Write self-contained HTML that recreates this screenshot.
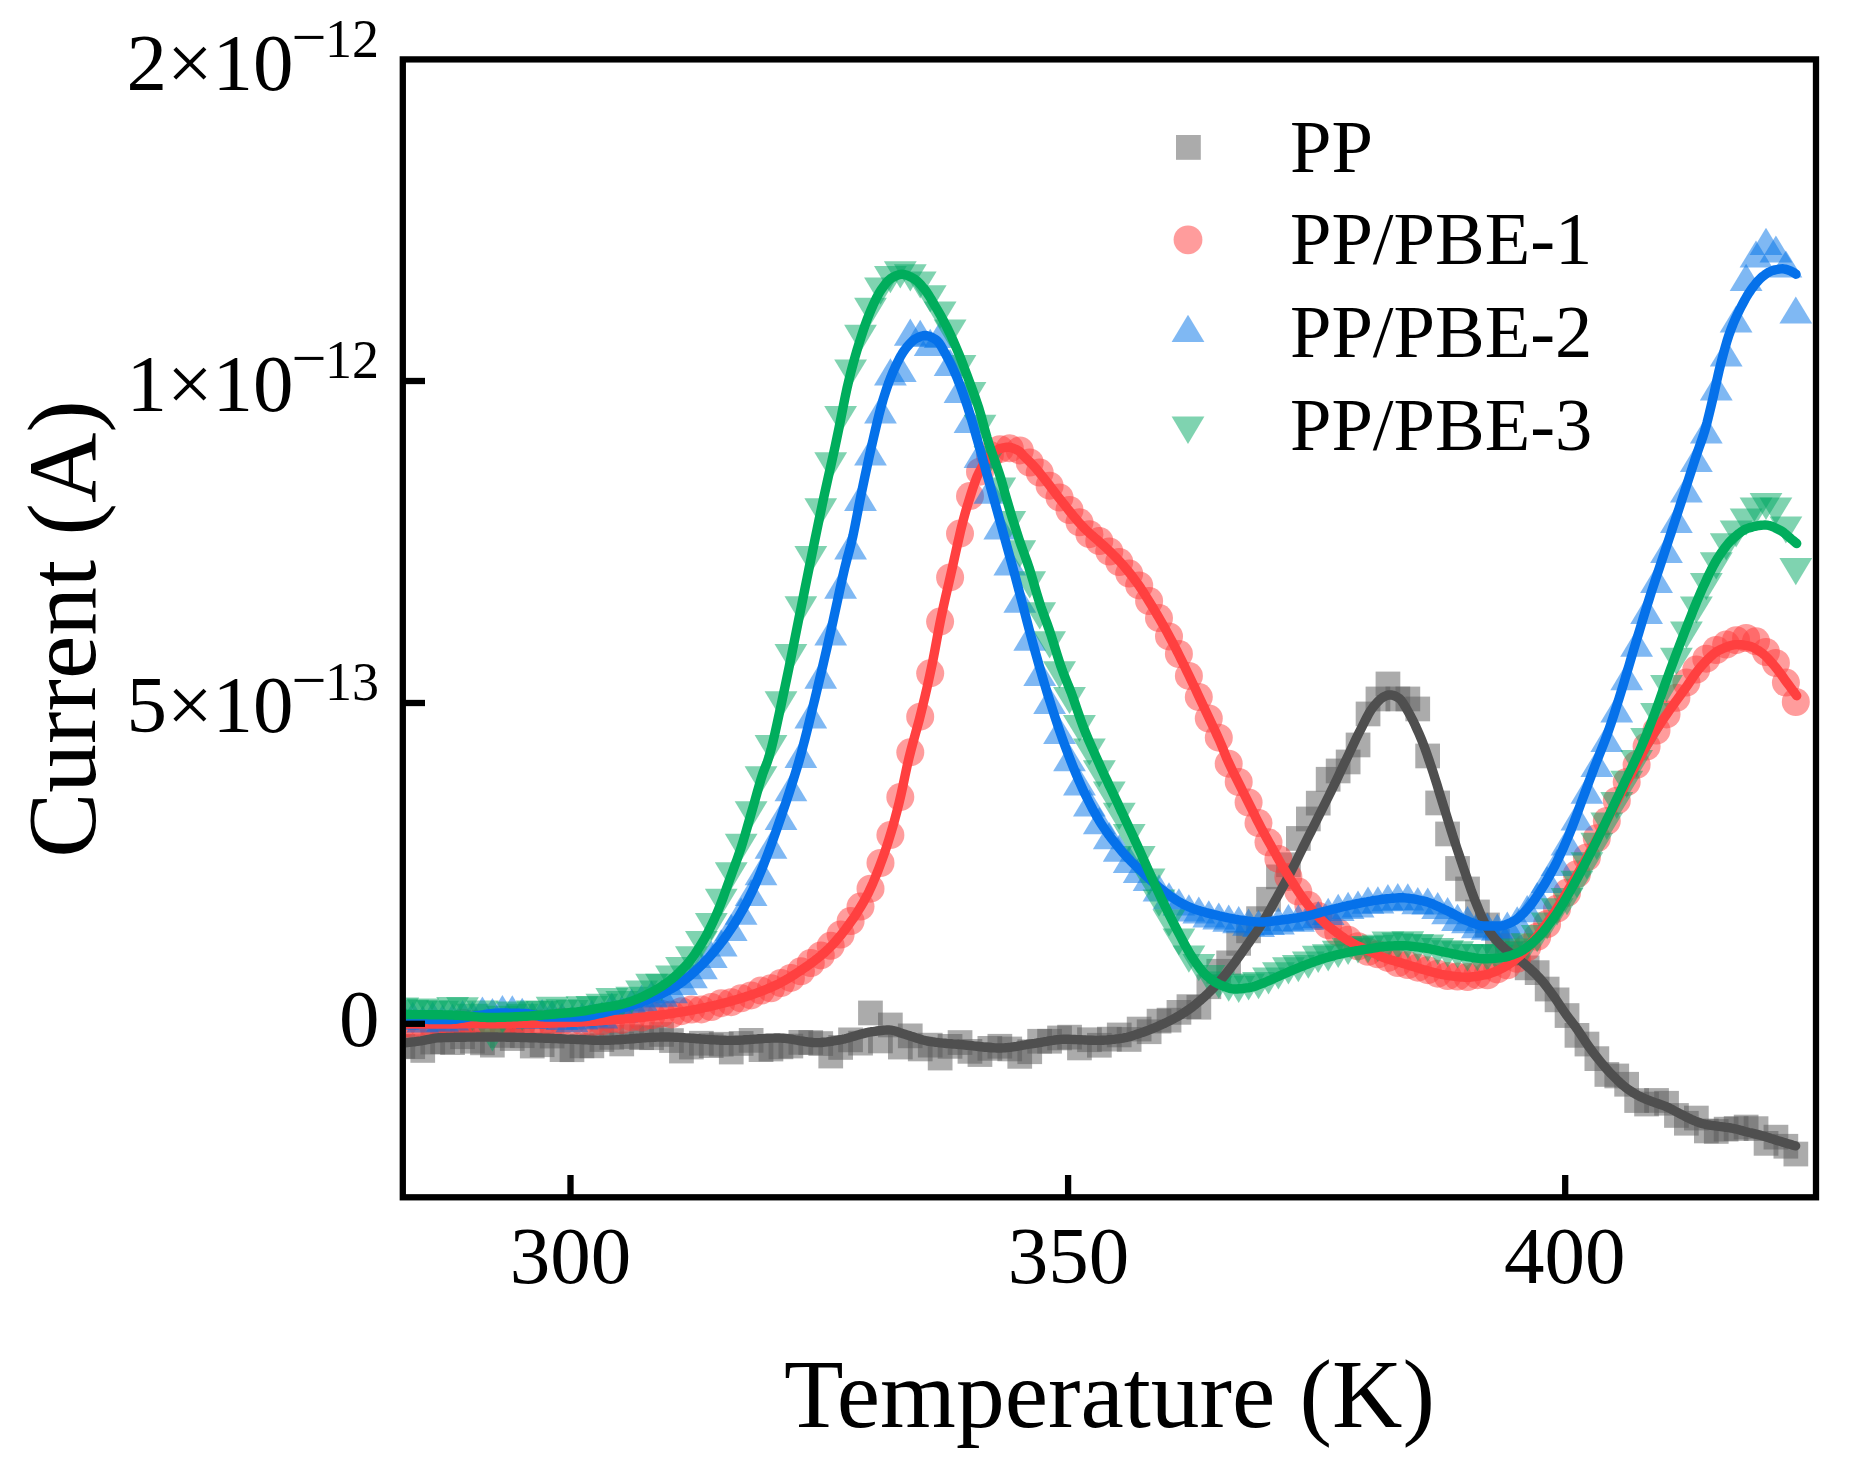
<!DOCTYPE html>
<html lang="en"><head><meta charset="utf-8"><title>TSDC current vs temperature</title>
<style>html,body{margin:0;padding:0;background:#fff}body{width:1852px;height:1472px;overflow:hidden}svg{display:block}text{font-family:"Liberation Serif","Times New Roman",serif;fill:#000}.tk{font-size:81px}.sup{font-size:54px}.mn{font-size:62px}.ax{font-size:97.5px}.lg{font-size:74.5px}</style></head><body>
<svg width="1852" height="1472" viewBox="0 0 1852 1472">
<rect width="1852" height="1472" fill="#fff"/>
<defs><clipPath id="pa"><rect x="405.9" y="62.5" width="1406.9" height="1131.6"/></clipPath></defs>
<g clip-path="url(#pa)">
<g fill="rgb(87,87,87)" fill-opacity="0.5">
<rect x="390.5" y="1034.0" width="24.7" height="24.7"/>
<rect x="400.4" y="1034.4" width="24.7" height="24.7"/>
<rect x="410.4" y="1038.1" width="24.7" height="24.7"/>
<rect x="420.4" y="1029.7" width="24.7" height="24.7"/>
<rect x="430.3" y="1029.4" width="24.7" height="24.7"/>
<rect x="440.2" y="1030.3" width="24.7" height="24.7"/>
<rect x="450.2" y="1024.4" width="24.7" height="24.7"/>
<rect x="460.1" y="1028.9" width="24.7" height="24.7"/>
<rect x="470.1" y="1030.5" width="24.7" height="24.7"/>
<rect x="480.0" y="1032.8" width="24.7" height="24.7"/>
<rect x="490.0" y="1023.1" width="24.7" height="24.7"/>
<rect x="499.9" y="1026.2" width="24.7" height="24.7"/>
<rect x="509.9" y="1023.4" width="24.7" height="24.7"/>
<rect x="519.9" y="1033.7" width="24.7" height="24.7"/>
<rect x="529.8" y="1032.4" width="24.7" height="24.7"/>
<rect x="539.8" y="1023.7" width="24.7" height="24.7"/>
<rect x="549.7" y="1037.3" width="24.7" height="24.7"/>
<rect x="559.6" y="1037.4" width="24.7" height="24.7"/>
<rect x="569.6" y="1033.5" width="24.7" height="24.7"/>
<rect x="579.5" y="1033.5" width="24.7" height="24.7"/>
<rect x="589.5" y="1027.2" width="24.7" height="24.7"/>
<rect x="599.4" y="1025.0" width="24.7" height="24.7"/>
<rect x="609.4" y="1031.6" width="24.7" height="24.7"/>
<rect x="619.4" y="1024.2" width="24.7" height="24.7"/>
<rect x="629.3" y="1025.3" width="24.7" height="24.7"/>
<rect x="639.2" y="1025.4" width="24.7" height="24.7"/>
<rect x="649.2" y="1022.1" width="24.7" height="24.7"/>
<rect x="659.1" y="1028.2" width="24.7" height="24.7"/>
<rect x="669.1" y="1038.7" width="24.7" height="24.7"/>
<rect x="679.0" y="1034.7" width="24.7" height="24.7"/>
<rect x="689.0" y="1030.9" width="24.7" height="24.7"/>
<rect x="698.9" y="1033.3" width="24.7" height="24.7"/>
<rect x="708.9" y="1031.9" width="24.7" height="24.7"/>
<rect x="718.9" y="1039.7" width="24.7" height="24.7"/>
<rect x="728.8" y="1031.1" width="24.7" height="24.7"/>
<rect x="738.8" y="1028.0" width="24.7" height="24.7"/>
<rect x="748.7" y="1037.3" width="24.7" height="24.7"/>
<rect x="758.6" y="1036.7" width="24.7" height="24.7"/>
<rect x="768.6" y="1034.5" width="24.7" height="24.7"/>
<rect x="778.5" y="1033.7" width="24.7" height="24.7"/>
<rect x="788.5" y="1030.0" width="24.7" height="24.7"/>
<rect x="798.4" y="1030.2" width="24.7" height="24.7"/>
<rect x="808.4" y="1031.2" width="24.7" height="24.7"/>
<rect x="818.4" y="1043.7" width="24.7" height="24.7"/>
<rect x="828.3" y="1035.1" width="24.7" height="24.7"/>
<rect x="838.2" y="1027.5" width="24.7" height="24.7"/>
<rect x="848.2" y="1030.8" width="24.7" height="24.7"/>
<rect x="858.1" y="1000.6" width="24.7" height="24.7"/>
<rect x="868.1" y="1028.6" width="24.7" height="24.7"/>
<rect x="878.0" y="1012.6" width="24.7" height="24.7"/>
<rect x="888.0" y="1034.7" width="24.7" height="24.7"/>
<rect x="897.9" y="1023.5" width="24.7" height="24.7"/>
<rect x="907.9" y="1036.6" width="24.7" height="24.7"/>
<rect x="917.9" y="1032.8" width="24.7" height="24.7"/>
<rect x="927.8" y="1045.7" width="24.7" height="24.7"/>
<rect x="937.7" y="1034.0" width="24.7" height="24.7"/>
<rect x="947.7" y="1030.2" width="24.7" height="24.7"/>
<rect x="957.6" y="1039.0" width="24.7" height="24.7"/>
<rect x="967.6" y="1042.2" width="24.7" height="24.7"/>
<rect x="977.5" y="1036.0" width="24.7" height="24.7"/>
<rect x="987.5" y="1033.9" width="24.7" height="24.7"/>
<rect x="997.4" y="1036.6" width="24.7" height="24.7"/>
<rect x="1007.4" y="1044.0" width="24.7" height="24.7"/>
<rect x="1017.4" y="1039.4" width="24.7" height="24.7"/>
<rect x="1027.3" y="1028.9" width="24.7" height="24.7"/>
<rect x="1037.2" y="1028.9" width="24.7" height="24.7"/>
<rect x="1047.2" y="1025.6" width="24.7" height="24.7"/>
<rect x="1057.2" y="1024.8" width="24.7" height="24.7"/>
<rect x="1067.1" y="1035.6" width="24.7" height="24.7"/>
<rect x="1077.1" y="1027.4" width="24.7" height="24.7"/>
<rect x="1087.0" y="1032.9" width="24.7" height="24.7"/>
<rect x="1097.0" y="1026.8" width="24.7" height="24.7"/>
<rect x="1106.9" y="1022.6" width="24.7" height="24.7"/>
<rect x="1116.8" y="1027.1" width="24.7" height="24.7"/>
<rect x="1126.8" y="1016.7" width="24.7" height="24.7"/>
<rect x="1136.8" y="1019.4" width="24.7" height="24.7"/>
<rect x="1146.7" y="1008.8" width="24.7" height="24.7"/>
<rect x="1156.7" y="1007.8" width="24.7" height="24.7"/>
<rect x="1166.6" y="1000.0" width="24.7" height="24.7"/>
<rect x="1176.6" y="994.3" width="24.7" height="24.7"/>
<rect x="1186.5" y="994.9" width="24.7" height="24.7"/>
<rect x="1196.5" y="974.4" width="24.7" height="24.7"/>
<rect x="1206.4" y="958.9" width="24.7" height="24.7"/>
<rect x="1216.3" y="950.5" width="24.7" height="24.7"/>
<rect x="1226.3" y="931.0" width="24.7" height="24.7"/>
<rect x="1236.2" y="918.5" width="24.7" height="24.7"/>
<rect x="1246.2" y="906.3" width="24.7" height="24.7"/>
<rect x="1256.2" y="886.9" width="24.7" height="24.7"/>
<rect x="1266.1" y="864.5" width="24.7" height="24.7"/>
<rect x="1276.1" y="852.4" width="24.7" height="24.7"/>
<rect x="1286.0" y="826.1" width="24.7" height="24.7"/>
<rect x="1296.0" y="806.6" width="24.7" height="24.7"/>
<rect x="1305.9" y="790.8" width="24.7" height="24.7"/>
<rect x="1315.8" y="766.9" width="24.7" height="24.7"/>
<rect x="1325.8" y="758.6" width="24.7" height="24.7"/>
<rect x="1335.8" y="749.6" width="24.7" height="24.7"/>
<rect x="1345.7" y="732.6" width="24.7" height="24.7"/>
<rect x="1355.7" y="701.6" width="24.7" height="24.7"/>
<rect x="1365.6" y="686.6" width="24.7" height="24.7"/>
<rect x="1375.6" y="671.6" width="24.7" height="24.7"/>
<rect x="1385.5" y="686.6" width="24.7" height="24.7"/>
<rect x="1395.5" y="686.6" width="24.7" height="24.7"/>
<rect x="1405.4" y="696.6" width="24.7" height="24.7"/>
<rect x="1415.3" y="743.6" width="24.7" height="24.7"/>
<rect x="1425.3" y="790.6" width="24.7" height="24.7"/>
<rect x="1435.2" y="821.6" width="24.7" height="24.7"/>
<rect x="1445.2" y="856.1" width="24.7" height="24.7"/>
<rect x="1455.2" y="876.6" width="24.7" height="24.7"/>
<rect x="1465.1" y="899.6" width="24.7" height="24.7"/>
<rect x="1475.1" y="912.6" width="24.7" height="24.7"/>
<rect x="1485.0" y="929.0" width="24.7" height="24.7"/>
<rect x="1495.0" y="933.3" width="24.7" height="24.7"/>
<rect x="1504.9" y="940.9" width="24.7" height="24.7"/>
<rect x="1514.8" y="955.5" width="24.7" height="24.7"/>
<rect x="1524.8" y="960.3" width="24.7" height="24.7"/>
<rect x="1534.8" y="976.7" width="24.7" height="24.7"/>
<rect x="1544.7" y="987.5" width="24.7" height="24.7"/>
<rect x="1554.7" y="1003.2" width="24.7" height="24.7"/>
<rect x="1564.6" y="1023.0" width="24.7" height="24.7"/>
<rect x="1574.6" y="1031.7" width="24.7" height="24.7"/>
<rect x="1584.5" y="1046.3" width="24.7" height="24.7"/>
<rect x="1594.5" y="1062.1" width="24.7" height="24.7"/>
<rect x="1604.4" y="1063.6" width="24.7" height="24.7"/>
<rect x="1614.3" y="1071.9" width="24.7" height="24.7"/>
<rect x="1624.3" y="1088.2" width="24.7" height="24.7"/>
<rect x="1634.2" y="1091.7" width="24.7" height="24.7"/>
<rect x="1644.2" y="1088.1" width="24.7" height="24.7"/>
<rect x="1654.2" y="1090.9" width="24.7" height="24.7"/>
<rect x="1664.1" y="1103.1" width="24.7" height="24.7"/>
<rect x="1674.0" y="1110.9" width="24.7" height="24.7"/>
<rect x="1684.0" y="1105.7" width="24.7" height="24.7"/>
<rect x="1694.0" y="1118.6" width="24.7" height="24.7"/>
<rect x="1703.9" y="1119.1" width="24.7" height="24.7"/>
<rect x="1713.8" y="1116.8" width="24.7" height="24.7"/>
<rect x="1723.8" y="1116.2" width="24.7" height="24.7"/>
<rect x="1733.8" y="1114.7" width="24.7" height="24.7"/>
<rect x="1743.7" y="1116.3" width="24.7" height="24.7"/>
<rect x="1753.7" y="1131.0" width="24.7" height="24.7"/>
<rect x="1763.6" y="1124.8" width="24.7" height="24.7"/>
<rect x="1773.5" y="1133.9" width="24.7" height="24.7"/>
<rect x="1783.5" y="1141.7" width="24.7" height="24.7"/>
</g>
<g fill="rgb(255,58,58)" fill-opacity="0.5">
<circle cx="402.9" cy="1024.3" r="14"/>
<circle cx="412.8" cy="1024.6" r="14"/>
<circle cx="422.8" cy="1024.7" r="14"/>
<circle cx="432.7" cy="1025.1" r="14"/>
<circle cx="442.6" cy="1024.6" r="14"/>
<circle cx="452.6" cy="1025.0" r="14"/>
<circle cx="462.6" cy="1022.8" r="14"/>
<circle cx="472.5" cy="1023.8" r="14"/>
<circle cx="482.4" cy="1024.9" r="14"/>
<circle cx="492.4" cy="1024.1" r="14"/>
<circle cx="502.4" cy="1024.7" r="14"/>
<circle cx="512.3" cy="1022.7" r="14"/>
<circle cx="522.2" cy="1023.5" r="14"/>
<circle cx="532.2" cy="1022.9" r="14"/>
<circle cx="542.1" cy="1023.4" r="14"/>
<circle cx="552.1" cy="1023.3" r="14"/>
<circle cx="562.0" cy="1021.6" r="14"/>
<circle cx="572.0" cy="1021.7" r="14"/>
<circle cx="582.0" cy="1021.4" r="14"/>
<circle cx="591.9" cy="1022.4" r="14"/>
<circle cx="601.9" cy="1021.3" r="14"/>
<circle cx="611.8" cy="1019.1" r="14"/>
<circle cx="621.8" cy="1019.9" r="14"/>
<circle cx="631.7" cy="1017.4" r="14"/>
<circle cx="641.6" cy="1017.6" r="14"/>
<circle cx="651.6" cy="1015.3" r="14"/>
<circle cx="661.5" cy="1013.7" r="14"/>
<circle cx="671.5" cy="1014.4" r="14"/>
<circle cx="681.5" cy="1011.2" r="14"/>
<circle cx="691.4" cy="1009.5" r="14"/>
<circle cx="701.4" cy="1009.4" r="14"/>
<circle cx="711.3" cy="1007.0" r="14"/>
<circle cx="721.2" cy="1003.2" r="14"/>
<circle cx="731.2" cy="1002.2" r="14"/>
<circle cx="741.1" cy="998.3" r="14"/>
<circle cx="751.1" cy="995.4" r="14"/>
<circle cx="761.0" cy="990.6" r="14"/>
<circle cx="771.0" cy="988.3" r="14"/>
<circle cx="781.0" cy="983.0" r="14"/>
<circle cx="790.9" cy="977.9" r="14"/>
<circle cx="800.9" cy="971.3" r="14"/>
<circle cx="810.8" cy="963.0" r="14"/>
<circle cx="820.8" cy="955.4" r="14"/>
<circle cx="830.7" cy="945.8" r="14"/>
<circle cx="840.6" cy="934.5" r="14"/>
<circle cx="850.6" cy="921.1" r="14"/>
<circle cx="860.5" cy="906.6" r="14"/>
<circle cx="870.5" cy="888.7" r="14"/>
<circle cx="880.5" cy="863.0" r="14"/>
<circle cx="890.4" cy="835.1" r="14"/>
<circle cx="900.3" cy="797.1" r="14"/>
<circle cx="910.3" cy="752.3" r="14"/>
<circle cx="920.2" cy="716.7" r="14"/>
<circle cx="930.2" cy="673.3" r="14"/>
<circle cx="940.1" cy="621.6" r="14"/>
<circle cx="950.1" cy="577.4" r="14"/>
<circle cx="960.0" cy="533.6" r="14"/>
<circle cx="970.0" cy="496.1" r="14"/>
<circle cx="980.0" cy="471.7" r="14"/>
<circle cx="989.9" cy="454.9" r="14"/>
<circle cx="999.8" cy="449.2" r="14"/>
<circle cx="1009.8" cy="448.3" r="14"/>
<circle cx="1019.8" cy="450.4" r="14"/>
<circle cx="1029.7" cy="462.5" r="14"/>
<circle cx="1039.7" cy="472.6" r="14"/>
<circle cx="1049.6" cy="485.7" r="14"/>
<circle cx="1059.5" cy="497.4" r="14"/>
<circle cx="1069.5" cy="510.0" r="14"/>
<circle cx="1079.5" cy="522.3" r="14"/>
<circle cx="1089.4" cy="534.2" r="14"/>
<circle cx="1099.3" cy="541.0" r="14"/>
<circle cx="1109.3" cy="551.5" r="14"/>
<circle cx="1119.2" cy="562.0" r="14"/>
<circle cx="1129.2" cy="573.6" r="14"/>
<circle cx="1139.2" cy="585.4" r="14"/>
<circle cx="1149.1" cy="601.0" r="14"/>
<circle cx="1159.0" cy="618.1" r="14"/>
<circle cx="1169.0" cy="636.4" r="14"/>
<circle cx="1178.9" cy="654.0" r="14"/>
<circle cx="1188.9" cy="675.9" r="14"/>
<circle cx="1198.8" cy="697.1" r="14"/>
<circle cx="1208.8" cy="718.5" r="14"/>
<circle cx="1218.8" cy="737.7" r="14"/>
<circle cx="1228.7" cy="763.7" r="14"/>
<circle cx="1238.7" cy="782.0" r="14"/>
<circle cx="1248.6" cy="802.5" r="14"/>
<circle cx="1258.5" cy="823.1" r="14"/>
<circle cx="1268.5" cy="842.3" r="14"/>
<circle cx="1278.4" cy="858.9" r="14"/>
<circle cx="1288.4" cy="877.0" r="14"/>
<circle cx="1298.3" cy="891.6" r="14"/>
<circle cx="1308.3" cy="904.9" r="14"/>
<circle cx="1318.2" cy="916.1" r="14"/>
<circle cx="1328.2" cy="925.2" r="14"/>
<circle cx="1338.2" cy="932.6" r="14"/>
<circle cx="1348.1" cy="939.7" r="14"/>
<circle cx="1358.0" cy="946.3" r="14"/>
<circle cx="1368.0" cy="951.8" r="14"/>
<circle cx="1377.9" cy="954.3" r="14"/>
<circle cx="1387.9" cy="957.9" r="14"/>
<circle cx="1397.8" cy="963.1" r="14"/>
<circle cx="1407.8" cy="965.0" r="14"/>
<circle cx="1417.8" cy="967.7" r="14"/>
<circle cx="1427.7" cy="970.2" r="14"/>
<circle cx="1437.7" cy="973.7" r="14"/>
<circle cx="1447.6" cy="976.1" r="14"/>
<circle cx="1457.5" cy="976.5" r="14"/>
<circle cx="1467.5" cy="977.0" r="14"/>
<circle cx="1477.4" cy="975.2" r="14"/>
<circle cx="1487.4" cy="975.3" r="14"/>
<circle cx="1497.3" cy="969.4" r="14"/>
<circle cx="1507.3" cy="965.3" r="14"/>
<circle cx="1517.2" cy="958.8" r="14"/>
<circle cx="1527.2" cy="947.3" r="14"/>
<circle cx="1537.2" cy="936.8" r="14"/>
<circle cx="1547.1" cy="924.1" r="14"/>
<circle cx="1557.0" cy="908.7" r="14"/>
<circle cx="1567.0" cy="892.8" r="14"/>
<circle cx="1576.9" cy="874.2" r="14"/>
<circle cx="1586.9" cy="857.4" r="14"/>
<circle cx="1596.8" cy="838.3" r="14"/>
<circle cx="1606.8" cy="821.1" r="14"/>
<circle cx="1616.8" cy="800.7" r="14"/>
<circle cx="1626.7" cy="782.1" r="14"/>
<circle cx="1636.6" cy="764.8" r="14"/>
<circle cx="1646.6" cy="746.5" r="14"/>
<circle cx="1656.5" cy="730.5" r="14"/>
<circle cx="1666.5" cy="714.4" r="14"/>
<circle cx="1676.4" cy="697.8" r="14"/>
<circle cx="1686.4" cy="682.6" r="14"/>
<circle cx="1696.3" cy="669.6" r="14"/>
<circle cx="1706.3" cy="658.7" r="14"/>
<circle cx="1716.2" cy="650.0" r="14"/>
<circle cx="1726.2" cy="644.6" r="14"/>
<circle cx="1736.1" cy="640.2" r="14"/>
<circle cx="1746.1" cy="638.0" r="14"/>
<circle cx="1756.0" cy="641.3" r="14"/>
<circle cx="1766.0" cy="652.0" r="14"/>
<circle cx="1775.9" cy="663.0" r="14"/>
<circle cx="1785.9" cy="682.6" r="14"/>
<circle cx="1795.8" cy="702.0" r="14"/>
</g>
<g fill="rgb(0,114,232)" fill-opacity="0.5">
<path d="M386.5 1029.9L419.2 1029.9L402.9 1002.7Z"/>
<path d="M396.4 1028.9L429.2 1028.9L412.8 1001.7Z"/>
<path d="M406.4 1032.6L439.1 1032.6L422.8 1005.4Z"/>
<path d="M416.3 1028.6L449.1 1028.6L432.7 1001.4Z"/>
<path d="M426.2 1031.8L459.0 1031.8L442.6 1004.6Z"/>
<path d="M436.2 1030.6L469.0 1030.6L452.6 1003.4Z"/>
<path d="M446.2 1027.2L478.9 1027.2L462.6 1000.0Z"/>
<path d="M456.1 1028.5L488.9 1028.5L472.5 1001.3Z"/>
<path d="M466.1 1023.7L498.8 1023.7L482.4 996.5Z"/>
<path d="M476.0 1025.1L508.8 1025.1L492.4 997.9Z"/>
<path d="M486.0 1022.1L518.8 1022.1L502.4 994.9Z"/>
<path d="M495.9 1022.4L528.7 1022.4L512.3 995.2Z"/>
<path d="M505.9 1025.0L538.6 1025.0L522.2 997.8Z"/>
<path d="M515.8 1029.0L548.6 1029.0L532.2 1001.8Z"/>
<path d="M525.8 1026.3L558.5 1026.3L542.1 999.1Z"/>
<path d="M535.7 1027.2L568.5 1027.2L552.1 1000.0Z"/>
<path d="M545.6 1030.0L578.4 1030.0L562.0 1002.8Z"/>
<path d="M555.6 1032.2L588.4 1032.2L572.0 1005.0Z"/>
<path d="M565.6 1029.6L598.4 1029.6L582.0 1002.4Z"/>
<path d="M575.5 1026.7L608.3 1026.7L591.9 999.5Z"/>
<path d="M585.5 1028.5L618.2 1028.5L601.9 1001.3Z"/>
<path d="M595.4 1019.6L628.2 1019.6L611.8 992.4Z"/>
<path d="M605.4 1022.6L638.1 1022.6L621.8 995.4Z"/>
<path d="M615.3 1015.8L648.1 1015.8L631.7 988.6Z"/>
<path d="M625.2 1011.6L658.0 1011.6L641.6 984.4Z"/>
<path d="M635.2 1007.6L668.0 1007.6L651.6 980.4Z"/>
<path d="M645.1 1006.8L677.9 1006.8L661.5 979.6Z"/>
<path d="M655.1 1003.2L687.9 1003.2L671.5 976.0Z"/>
<path d="M665.1 995.0L697.9 995.0L681.5 967.8Z"/>
<path d="M675.0 988.3L707.8 988.3L691.4 961.1Z"/>
<path d="M685.0 979.3L717.8 979.3L701.4 952.1Z"/>
<path d="M694.9 968.0L727.7 968.0L711.3 940.8Z"/>
<path d="M704.9 956.4L737.6 956.4L721.2 929.2Z"/>
<path d="M714.8 940.9L747.6 940.9L731.2 913.7Z"/>
<path d="M724.8 924.7L757.5 924.7L741.1 897.5Z"/>
<path d="M734.7 906.1L767.5 906.1L751.1 878.9Z"/>
<path d="M744.6 885.2L777.4 885.2L761.0 858.0Z"/>
<path d="M754.6 858.7L787.4 858.7L771.0 831.5Z"/>
<path d="M764.6 830.1L797.4 830.1L781.0 802.9Z"/>
<path d="M774.5 801.2L807.3 801.2L790.9 774.0Z"/>
<path d="M784.5 767.9L817.2 767.9L800.9 740.7Z"/>
<path d="M794.4 728.5L827.2 728.5L810.8 701.3Z"/>
<path d="M804.4 688.8L837.1 688.8L820.8 661.6Z"/>
<path d="M814.3 645.6L847.1 645.6L830.7 618.4Z"/>
<path d="M824.2 598.7L857.0 598.7L840.6 571.5Z"/>
<path d="M834.2 559.5L867.0 559.5L850.6 532.3Z"/>
<path d="M844.1 511.0L876.9 511.0L860.5 483.8Z"/>
<path d="M854.1 465.6L886.9 465.6L870.5 438.4Z"/>
<path d="M864.1 423.4L896.9 423.4L880.5 396.2Z"/>
<path d="M874.0 385.4L906.8 385.4L890.4 358.2Z"/>
<path d="M883.9 381.9L916.7 381.9L900.3 354.7Z"/>
<path d="M893.9 345.8L926.7 345.8L910.3 318.6Z"/>
<path d="M903.9 347.0L936.6 347.0L920.2 319.8Z"/>
<path d="M913.8 356.0L946.6 356.0L930.2 328.8Z"/>
<path d="M923.8 348.1L956.5 348.1L940.1 320.9Z"/>
<path d="M933.7 376.1L966.5 376.1L950.1 348.9Z"/>
<path d="M943.6 403.0L976.4 403.0L960.0 375.8Z"/>
<path d="M953.6 433.1L986.4 433.1L970.0 405.9Z"/>
<path d="M963.6 468.0L996.4 468.0L980.0 440.8Z"/>
<path d="M973.5 503.8L1006.3 503.8L989.9 476.6Z"/>
<path d="M983.4 539.5L1016.2 539.5L999.8 512.3Z"/>
<path d="M993.4 575.6L1026.2 575.6L1009.8 548.4Z"/>
<path d="M1003.4 612.8L1036.2 612.8L1019.8 585.6Z"/>
<path d="M1013.3 650.8L1046.1 650.8L1029.7 623.6Z"/>
<path d="M1023.3 686.1L1056.1 686.1L1039.7 658.9Z"/>
<path d="M1033.2 713.9L1066.0 713.9L1049.6 686.7Z"/>
<path d="M1043.1 744.1L1076.0 744.1L1059.5 716.9Z"/>
<path d="M1053.1 771.3L1085.9 771.3L1069.5 744.1Z"/>
<path d="M1063.0 795.4L1095.9 795.4L1079.5 768.2Z"/>
<path d="M1073.0 816.4L1105.8 816.4L1089.4 789.2Z"/>
<path d="M1082.9 834.3L1115.8 834.3L1099.3 807.1Z"/>
<path d="M1092.9 849.2L1125.7 849.2L1109.3 822.0Z"/>
<path d="M1102.8 861.8L1135.7 861.8L1119.2 834.6Z"/>
<path d="M1112.8 872.9L1145.6 872.9L1129.2 845.7Z"/>
<path d="M1122.8 882.9L1155.6 882.9L1139.2 855.7Z"/>
<path d="M1132.7 890.9L1165.5 890.9L1149.1 863.7Z"/>
<path d="M1142.6 901.4L1175.5 901.4L1159.0 874.2Z"/>
<path d="M1152.6 909.5L1185.4 909.5L1169.0 882.3Z"/>
<path d="M1162.5 915.5L1195.3 915.5L1178.9 888.3Z"/>
<path d="M1172.5 921.5L1205.3 921.5L1188.9 894.3Z"/>
<path d="M1182.4 923.6L1215.2 923.6L1198.8 896.4Z"/>
<path d="M1192.4 927.5L1225.2 927.5L1208.8 900.3Z"/>
<path d="M1202.3 929.6L1235.2 929.6L1218.8 902.4Z"/>
<path d="M1212.3 931.8L1245.1 931.8L1228.7 904.6Z"/>
<path d="M1222.2 933.2L1255.1 933.2L1238.7 906.0Z"/>
<path d="M1232.2 935.7L1265.0 935.7L1248.6 908.5Z"/>
<path d="M1242.1 936.9L1275.0 936.9L1258.5 909.7Z"/>
<path d="M1252.1 935.1L1284.9 935.1L1268.5 907.9Z"/>
<path d="M1262.0 934.4L1294.8 934.4L1278.4 907.2Z"/>
<path d="M1272.0 931.3L1304.8 931.3L1288.4 904.1Z"/>
<path d="M1281.9 931.8L1314.8 931.8L1298.3 904.6Z"/>
<path d="M1291.9 929.7L1324.7 929.7L1308.3 902.5Z"/>
<path d="M1301.8 928.1L1334.7 928.1L1318.2 900.9Z"/>
<path d="M1311.8 925.0L1344.6 925.0L1328.2 897.8Z"/>
<path d="M1321.8 920.9L1354.6 920.9L1338.2 893.7Z"/>
<path d="M1331.7 918.9L1364.5 918.9L1348.1 891.7Z"/>
<path d="M1341.6 917.6L1374.5 917.6L1358.0 890.4Z"/>
<path d="M1351.6 913.7L1384.4 913.7L1368.0 886.5Z"/>
<path d="M1361.5 913.4L1394.3 913.4L1377.9 886.2Z"/>
<path d="M1371.5 911.3L1404.3 911.3L1387.9 884.1Z"/>
<path d="M1381.4 910.3L1414.2 910.3L1397.8 883.1Z"/>
<path d="M1391.4 910.4L1424.2 910.4L1407.8 883.2Z"/>
<path d="M1401.3 914.2L1434.2 914.2L1417.8 887.0Z"/>
<path d="M1411.3 914.6L1444.1 914.6L1427.7 887.4Z"/>
<path d="M1421.2 919.1L1454.1 919.1L1437.7 891.9Z"/>
<path d="M1431.2 924.2L1464.0 924.2L1447.6 897.0Z"/>
<path d="M1441.1 930.9L1474.0 930.9L1457.5 903.7Z"/>
<path d="M1451.1 933.2L1483.9 933.2L1467.5 906.0Z"/>
<path d="M1461.0 938.2L1493.8 938.2L1477.4 911.0Z"/>
<path d="M1471.0 939.7L1503.8 939.7L1487.4 912.5Z"/>
<path d="M1480.9 940.8L1513.8 940.8L1497.3 913.6Z"/>
<path d="M1490.9 938.7L1523.7 938.7L1507.3 911.5Z"/>
<path d="M1500.8 933.4L1533.7 933.4L1517.2 906.2Z"/>
<path d="M1510.8 922.2L1543.6 922.2L1527.2 895.0Z"/>
<path d="M1520.8 909.2L1553.6 909.2L1537.2 882.0Z"/>
<path d="M1530.7 893.1L1563.5 893.1L1547.1 865.9Z"/>
<path d="M1540.6 876.1L1573.5 876.1L1557.0 848.9Z"/>
<path d="M1550.6 855.5L1583.4 855.5L1567.0 828.3Z"/>
<path d="M1560.5 830.5L1593.3 830.5L1576.9 803.3Z"/>
<path d="M1570.5 803.7L1603.3 803.7L1586.9 776.5Z"/>
<path d="M1580.4 777.1L1613.2 777.1L1596.8 749.9Z"/>
<path d="M1590.4 751.9L1623.2 751.9L1606.8 724.7Z"/>
<path d="M1600.3 722.5L1633.2 722.5L1616.8 695.3Z"/>
<path d="M1610.3 690.2L1643.1 690.2L1626.7 663.0Z"/>
<path d="M1620.2 656.8L1653.0 656.8L1636.6 629.6Z"/>
<path d="M1630.2 624.0L1663.0 624.0L1646.6 596.8Z"/>
<path d="M1640.1 592.9L1673.0 592.9L1656.5 565.7Z"/>
<path d="M1650.1 563.1L1682.9 563.1L1666.5 535.9Z"/>
<path d="M1660.0 533.0L1692.8 533.0L1676.4 505.8Z"/>
<path d="M1670.0 502.6L1702.8 502.6L1686.4 475.4Z"/>
<path d="M1679.9 472.1L1712.8 472.1L1696.3 444.9Z"/>
<path d="M1689.9 443.6L1722.7 443.6L1706.3 416.4Z"/>
<path d="M1699.8 400.6L1732.7 400.6L1716.2 373.4Z"/>
<path d="M1709.8 366.6L1742.6 366.6L1726.2 339.4Z"/>
<path d="M1719.7 332.6L1752.5 332.6L1736.1 305.4Z"/>
<path d="M1729.7 290.9L1762.5 290.9L1746.1 263.7Z"/>
<path d="M1739.6 267.6L1772.5 267.6L1756.0 240.4Z"/>
<path d="M1749.6 255.0L1782.4 255.0L1766.0 227.8Z"/>
<path d="M1759.5 262.6L1792.3 262.6L1775.9 235.4Z"/>
<path d="M1769.5 277.6L1802.3 277.6L1785.9 250.4Z"/>
<path d="M1779.4 323.6L1812.2 323.6L1795.8 296.4Z"/>
</g>
<g fill="rgb(0,168,98)" fill-opacity="0.5">
<path d="M386.5 997.6L419.2 997.6L402.9 1024.8Z"/>
<path d="M396.4 999.7L429.2 999.7L412.8 1026.9Z"/>
<path d="M406.4 998.6L439.1 998.6L422.8 1025.8Z"/>
<path d="M416.3 1000.3L449.1 1000.3L432.7 1027.5Z"/>
<path d="M426.2 1000.7L459.0 1000.7L442.6 1027.9Z"/>
<path d="M436.2 996.9L469.0 996.9L452.6 1024.1Z"/>
<path d="M446.2 997.2L478.9 997.2L462.6 1024.4Z"/>
<path d="M456.1 1003.8L488.9 1003.8L472.5 1031.0Z"/>
<path d="M466.1 1000.5L498.8 1000.5L482.4 1027.7Z"/>
<path d="M476.0 1024.4L508.8 1024.4L492.4 1051.6Z"/>
<path d="M486.0 1005.7L518.8 1005.7L502.4 1032.9Z"/>
<path d="M495.9 1001.6L528.7 1001.6L512.3 1028.8Z"/>
<path d="M505.9 1003.7L538.6 1003.7L522.2 1030.9Z"/>
<path d="M515.8 1000.6L548.6 1000.6L532.2 1027.8Z"/>
<path d="M525.8 1001.0L558.5 1001.0L542.1 1028.2Z"/>
<path d="M535.7 996.7L568.5 996.7L552.1 1023.9Z"/>
<path d="M545.6 999.2L578.4 999.2L562.0 1026.4Z"/>
<path d="M555.6 999.9L588.4 999.9L572.0 1027.1Z"/>
<path d="M565.6 996.3L598.4 996.3L582.0 1023.5Z"/>
<path d="M575.5 996.1L608.3 996.1L591.9 1023.3Z"/>
<path d="M585.5 993.8L618.2 993.8L601.9 1021.0Z"/>
<path d="M595.4 988.0L628.2 988.0L611.8 1015.2Z"/>
<path d="M605.4 990.9L638.1 990.9L621.8 1018.1Z"/>
<path d="M615.3 986.7L648.1 986.7L631.7 1013.9Z"/>
<path d="M625.2 980.6L658.0 980.6L641.6 1007.8Z"/>
<path d="M635.2 973.8L668.0 973.8L651.6 1001.0Z"/>
<path d="M645.1 973.7L677.9 973.7L661.5 1000.9Z"/>
<path d="M655.1 965.6L687.9 965.6L671.5 992.8Z"/>
<path d="M665.1 957.1L697.9 957.1L681.5 984.3Z"/>
<path d="M675.0 946.2L707.8 946.2L691.4 973.4Z"/>
<path d="M685.0 930.9L717.8 930.9L701.4 958.1Z"/>
<path d="M694.9 913.0L727.7 913.0L711.3 940.2Z"/>
<path d="M704.9 888.8L737.6 888.8L721.2 916.0Z"/>
<path d="M714.8 862.3L747.6 862.3L731.2 889.5Z"/>
<path d="M724.8 833.7L757.5 833.7L741.1 860.9Z"/>
<path d="M734.7 801.2L767.5 801.2L751.1 828.4Z"/>
<path d="M744.6 766.3L777.4 766.3L761.0 793.5Z"/>
<path d="M754.6 735.1L787.4 735.1L771.0 762.3Z"/>
<path d="M764.6 691.2L797.4 691.2L781.0 718.4Z"/>
<path d="M774.5 644.0L807.3 644.0L790.9 671.2Z"/>
<path d="M784.5 596.3L817.2 596.3L800.9 623.5Z"/>
<path d="M794.4 546.0L827.2 546.0L810.8 573.2Z"/>
<path d="M804.4 498.3L837.1 498.3L820.8 525.5Z"/>
<path d="M814.3 452.2L847.1 452.2L830.7 479.4Z"/>
<path d="M824.2 405.9L857.0 405.9L840.6 433.1Z"/>
<path d="M834.2 359.4L867.0 359.4L850.6 386.6Z"/>
<path d="M844.1 324.8L876.9 324.8L860.5 352.0Z"/>
<path d="M854.1 297.7L886.9 297.7L870.5 324.9Z"/>
<path d="M864.1 277.5L896.9 277.5L880.5 304.7Z"/>
<path d="M874.0 266.1L906.8 266.1L890.4 293.3Z"/>
<path d="M883.9 261.3L916.7 261.3L900.3 288.5Z"/>
<path d="M893.9 264.2L926.7 264.2L910.3 291.4Z"/>
<path d="M903.9 271.4L936.6 271.4L920.2 298.6Z"/>
<path d="M913.8 285.2L946.6 285.2L930.2 312.4Z"/>
<path d="M923.8 301.5L956.5 301.5L940.1 328.7Z"/>
<path d="M933.7 319.5L966.5 319.5L950.1 346.7Z"/>
<path d="M943.6 355.0L976.4 355.0L960.0 382.2Z"/>
<path d="M953.6 381.9L986.4 381.9L970.0 409.1Z"/>
<path d="M963.6 414.8L996.4 414.8L980.0 442.0Z"/>
<path d="M973.5 446.1L1006.3 446.1L989.9 473.3Z"/>
<path d="M983.4 477.4L1016.2 477.4L999.8 504.6Z"/>
<path d="M993.4 510.9L1026.2 510.9L1009.8 538.1Z"/>
<path d="M1003.4 540.3L1036.2 540.3L1019.8 567.5Z"/>
<path d="M1013.3 571.2L1046.1 571.2L1029.7 598.4Z"/>
<path d="M1023.3 602.2L1056.1 602.2L1039.7 629.4Z"/>
<path d="M1033.2 631.3L1066.0 631.3L1049.6 658.5Z"/>
<path d="M1043.1 661.3L1076.0 661.3L1059.5 688.5Z"/>
<path d="M1053.1 686.9L1085.9 686.9L1069.5 714.1Z"/>
<path d="M1063.0 714.9L1095.9 714.9L1079.5 742.1Z"/>
<path d="M1073.0 738.4L1105.8 738.4L1089.4 765.6Z"/>
<path d="M1082.9 760.3L1115.8 760.3L1099.3 787.5Z"/>
<path d="M1092.9 781.4L1125.7 781.4L1109.3 808.6Z"/>
<path d="M1102.8 802.7L1135.7 802.7L1119.2 829.9Z"/>
<path d="M1112.8 824.0L1145.6 824.0L1129.2 851.2Z"/>
<path d="M1122.8 846.0L1155.6 846.0L1139.2 873.2Z"/>
<path d="M1132.7 868.4L1165.5 868.4L1149.1 895.6Z"/>
<path d="M1142.6 889.5L1175.5 889.5L1159.0 916.7Z"/>
<path d="M1152.6 909.5L1185.4 909.5L1169.0 936.7Z"/>
<path d="M1162.5 928.4L1195.3 928.4L1178.9 955.6Z"/>
<path d="M1172.5 945.5L1205.3 945.5L1188.9 972.7Z"/>
<path d="M1182.4 954.1L1215.2 954.1L1198.8 981.3Z"/>
<path d="M1192.4 965.1L1225.2 965.1L1208.8 992.3Z"/>
<path d="M1202.3 971.6L1235.2 971.6L1218.8 998.8Z"/>
<path d="M1212.3 974.6L1245.1 974.6L1228.7 1001.8Z"/>
<path d="M1222.2 975.8L1255.1 975.8L1238.7 1003.0Z"/>
<path d="M1232.2 973.4L1265.0 973.4L1248.6 1000.6Z"/>
<path d="M1242.1 972.1L1275.0 972.1L1258.5 999.3Z"/>
<path d="M1252.1 967.4L1284.9 967.4L1268.5 994.6Z"/>
<path d="M1262.0 962.2L1294.8 962.2L1278.4 989.4Z"/>
<path d="M1272.0 957.3L1304.8 957.3L1288.4 984.5Z"/>
<path d="M1281.9 955.0L1314.8 955.0L1298.3 982.2Z"/>
<path d="M1291.9 951.5L1324.7 951.5L1308.3 978.7Z"/>
<path d="M1301.8 945.7L1334.7 945.7L1318.2 972.9Z"/>
<path d="M1311.8 944.3L1344.6 944.3L1328.2 971.5Z"/>
<path d="M1321.8 940.7L1354.6 940.7L1338.2 967.9Z"/>
<path d="M1331.7 937.9L1364.5 937.9L1348.1 965.1Z"/>
<path d="M1341.6 936.4L1374.5 936.4L1358.0 963.6Z"/>
<path d="M1351.6 936.0L1384.4 936.0L1368.0 963.2Z"/>
<path d="M1361.5 934.7L1394.3 934.7L1377.9 961.9Z"/>
<path d="M1371.5 931.4L1404.3 931.4L1387.9 958.6Z"/>
<path d="M1381.4 932.4L1414.2 932.4L1397.8 959.6Z"/>
<path d="M1391.4 931.2L1424.2 931.2L1407.8 958.4Z"/>
<path d="M1401.3 934.0L1434.2 934.0L1417.8 961.2Z"/>
<path d="M1411.3 934.5L1444.1 934.5L1427.7 961.7Z"/>
<path d="M1421.2 937.9L1454.1 937.9L1437.7 965.1Z"/>
<path d="M1431.2 940.2L1464.0 940.2L1447.6 967.4Z"/>
<path d="M1441.1 941.2L1474.0 941.2L1457.5 968.4Z"/>
<path d="M1451.1 944.2L1483.9 944.2L1467.5 971.4Z"/>
<path d="M1461.0 944.1L1493.8 944.1L1477.4 971.3Z"/>
<path d="M1471.0 944.0L1503.8 944.0L1487.4 971.2Z"/>
<path d="M1480.9 944.7L1513.8 944.7L1497.3 971.9Z"/>
<path d="M1490.9 941.8L1523.7 941.8L1507.3 969.0Z"/>
<path d="M1500.8 938.6L1533.7 938.6L1517.2 965.8Z"/>
<path d="M1510.8 933.3L1543.6 933.3L1527.2 960.5Z"/>
<path d="M1520.8 925.0L1553.6 925.0L1537.2 952.2Z"/>
<path d="M1530.7 912.4L1563.5 912.4L1547.1 939.6Z"/>
<path d="M1540.6 898.2L1573.5 898.2L1557.0 925.4Z"/>
<path d="M1550.6 888.1L1583.4 888.1L1567.0 915.3Z"/>
<path d="M1560.5 870.7L1593.3 870.7L1576.9 897.9Z"/>
<path d="M1570.5 852.2L1603.3 852.2L1586.9 879.4Z"/>
<path d="M1580.4 832.8L1613.2 832.8L1596.8 860.0Z"/>
<path d="M1590.4 812.6L1623.2 812.6L1606.8 839.8Z"/>
<path d="M1600.3 791.9L1633.2 791.9L1616.8 819.1Z"/>
<path d="M1610.3 770.8L1643.1 770.8L1626.7 798.0Z"/>
<path d="M1620.2 750.0L1653.0 750.0L1636.6 777.2Z"/>
<path d="M1630.2 727.9L1663.0 727.9L1646.6 755.1Z"/>
<path d="M1640.1 702.9L1673.0 702.9L1656.5 730.1Z"/>
<path d="M1650.1 675.1L1682.9 675.1L1666.5 702.3Z"/>
<path d="M1660.0 647.8L1692.8 647.8L1676.4 675.0Z"/>
<path d="M1670.0 621.6L1702.8 621.6L1686.4 648.8Z"/>
<path d="M1679.9 596.4L1712.8 596.4L1696.3 623.6Z"/>
<path d="M1689.9 573.0L1722.7 573.0L1706.3 600.2Z"/>
<path d="M1699.8 552.3L1732.7 552.3L1716.2 579.5Z"/>
<path d="M1709.8 533.3L1742.6 533.3L1726.2 560.5Z"/>
<path d="M1719.7 520.4L1752.5 520.4L1736.1 547.6Z"/>
<path d="M1729.7 508.4L1762.5 508.4L1746.1 535.6Z"/>
<path d="M1739.6 497.4L1772.5 497.4L1756.0 524.6Z"/>
<path d="M1749.6 492.9L1782.4 492.9L1766.0 520.1Z"/>
<path d="M1759.5 497.4L1792.3 497.4L1775.9 524.6Z"/>
<path d="M1769.5 516.4L1802.3 516.4L1785.9 543.6Z"/>
<path d="M1779.4 558.1L1812.2 558.1L1795.8 585.3Z"/>
</g>
<g fill="none" stroke-width="9.4" stroke-linecap="round" stroke-linejoin="round">
<polyline stroke="#4f4f4f" points="403.0,1043.0 405.0,1042.8 407.0,1042.6 409.0,1042.4 411.0,1042.1 413.0,1041.9 415.0,1041.7 417.0,1041.4 419.0,1041.1 421.0,1040.9 423.0,1040.5 425.0,1040.1 427.0,1039.7 429.0,1039.3 431.0,1038.9 433.0,1038.5 435.0,1038.2 437.0,1037.9 439.0,1037.7 441.0,1037.7 443.0,1037.6 445.0,1037.6 447.0,1037.5 449.0,1037.5 451.0,1037.4 453.0,1037.4 455.0,1037.3 457.0,1037.3 459.0,1037.3 461.0,1037.2 463.0,1037.2 465.0,1037.2 467.0,1037.1 469.0,1037.1 471.0,1037.1 473.0,1037.1 475.0,1037.1 477.0,1037.0 479.0,1037.0 481.0,1037.0 483.0,1037.0 485.0,1037.0 487.0,1037.0 489.0,1037.0 491.0,1037.0 493.0,1037.0 495.0,1037.0 497.0,1037.0 499.0,1037.1 501.0,1037.1 503.0,1037.1 505.0,1037.1 507.0,1037.2 509.0,1037.2 511.0,1037.3 513.0,1037.3 515.0,1037.3 517.0,1037.4 519.0,1037.4 521.0,1037.5 523.0,1037.5 525.0,1037.6 527.0,1037.6 529.0,1037.7 531.0,1037.7 533.0,1037.8 535.0,1037.8 537.0,1037.9 539.0,1038.0 541.0,1038.0 543.0,1038.1 545.0,1038.2 547.0,1038.2 549.0,1038.3 551.0,1038.4 553.0,1038.5 555.0,1038.6 557.0,1038.6 559.0,1038.7 561.0,1038.8 563.0,1038.9 565.0,1039.0 567.0,1039.1 569.0,1039.1 571.0,1039.2 573.0,1039.3 575.0,1039.4 577.0,1039.5 579.0,1039.6 581.0,1039.6 583.0,1039.7 585.0,1039.8 587.0,1039.9 589.0,1040.0 591.0,1040.1 593.0,1040.2 595.0,1040.3 597.0,1040.4 599.0,1040.4 601.0,1040.4 603.0,1040.4 605.0,1040.3 607.0,1040.3 609.0,1040.2 611.0,1040.1 613.0,1040.0 615.0,1039.9 617.0,1039.8 619.0,1039.7 621.0,1039.6 623.0,1039.4 625.0,1039.3 627.0,1039.1 629.0,1039.0 631.0,1038.8 633.0,1038.7 635.0,1038.5 637.0,1038.3 639.0,1038.2 641.0,1038.0 643.0,1037.9 645.0,1037.8 647.0,1037.6 649.0,1037.5 651.0,1037.4 653.0,1037.3 655.0,1037.2 657.0,1037.1 659.0,1037.1 661.0,1037.0 663.0,1037.0 665.0,1037.0 667.0,1037.0 669.0,1037.0 671.0,1037.1 673.0,1037.1 675.0,1037.2 677.0,1037.3 679.0,1037.4 681.0,1037.5 683.0,1037.6 685.0,1037.8 687.0,1037.9 689.0,1038.0 691.0,1038.2 693.0,1038.3 695.0,1038.5 697.0,1038.7 699.0,1038.8 701.0,1039.0 703.0,1039.1 705.0,1039.3 707.0,1039.4 709.0,1039.6 711.0,1039.7 713.0,1039.8 715.0,1039.9 717.0,1040.0 719.0,1040.1 721.0,1040.2 723.0,1040.3 725.0,1040.3 727.0,1040.4 729.0,1040.4 731.0,1040.4 733.0,1040.4 735.0,1040.3 737.0,1040.3 739.0,1040.2 741.0,1040.1 743.0,1040.0 745.0,1039.8 747.0,1039.7 749.0,1039.6 751.0,1039.4 753.0,1039.3 755.0,1039.1 757.0,1039.0 759.0,1038.8 761.0,1038.7 763.0,1038.6 765.0,1038.4 767.0,1038.3 769.0,1038.2 771.0,1038.1 773.0,1038.1 775.0,1038.0 777.0,1038.0 779.0,1038.0 781.0,1038.1 783.0,1038.2 785.0,1038.4 787.0,1038.6 789.0,1038.9 791.0,1039.2 793.0,1039.5 795.0,1039.9 797.0,1040.2 799.0,1040.6 801.0,1040.9 803.0,1041.2 805.0,1041.6 807.0,1041.8 809.0,1042.1 811.0,1042.3 813.0,1042.5 815.0,1042.6 817.0,1042.6 819.0,1042.6 821.0,1042.5 823.0,1042.3 825.0,1042.1 827.0,1041.9 829.0,1041.6 831.0,1041.3 833.0,1041.0 835.0,1040.6 837.0,1040.3 839.0,1040.0 841.0,1039.7 843.0,1039.2 845.0,1038.8 847.0,1038.3 849.0,1037.7 851.0,1037.1 853.0,1036.5 855.0,1035.9 857.0,1035.3 859.0,1034.7 861.0,1034.1 863.0,1033.6 865.0,1033.1 867.0,1032.6 869.0,1032.2 871.0,1031.8 873.0,1031.6 875.0,1031.3 877.0,1031.0 879.0,1030.7 881.0,1030.5 883.0,1030.3 885.0,1030.1 887.0,1030.0 889.0,1030.0 891.0,1030.1 893.0,1030.5 895.0,1031.0 897.0,1031.6 899.0,1032.3 901.0,1033.1 903.0,1033.7 905.0,1034.3 907.0,1034.9 909.0,1035.5 911.0,1036.2 913.0,1036.8 915.0,1037.5 917.0,1038.2 919.0,1038.8 921.0,1039.4 923.0,1040.0 925.0,1040.5 927.0,1041.0 929.0,1041.3 931.0,1041.6 933.0,1041.9 935.0,1042.2 937.0,1042.4 939.0,1042.7 941.0,1042.9 943.0,1043.1 945.0,1043.3 947.0,1043.5 949.0,1043.6 951.0,1043.8 953.0,1044.0 955.0,1044.1 957.0,1044.3 959.0,1044.5 961.0,1044.6 963.0,1044.8 965.0,1045.0 967.0,1045.2 969.0,1045.4 971.0,1045.6 973.0,1045.8 975.0,1046.1 977.0,1046.3 979.0,1046.5 981.0,1046.7 983.0,1047.0 985.0,1047.2 987.0,1047.3 989.0,1047.5 991.0,1047.7 993.0,1047.8 995.0,1047.9 997.0,1048.0 999.0,1048.0 1001.0,1048.0 1003.0,1047.9 1005.0,1047.8 1007.0,1047.6 1009.0,1047.4 1011.0,1047.2 1013.0,1046.9 1015.0,1046.6 1017.0,1046.3 1019.0,1045.9 1021.0,1045.6 1023.0,1045.2 1025.0,1044.9 1027.0,1044.5 1029.0,1044.2 1031.0,1043.9 1033.0,1043.6 1035.0,1043.4 1037.0,1043.0 1039.0,1042.7 1041.0,1042.4 1043.0,1042.0 1045.0,1041.6 1047.0,1041.3 1049.0,1040.9 1051.0,1040.6 1053.0,1040.3 1055.0,1040.0 1057.0,1039.8 1059.0,1039.6 1061.0,1039.4 1063.0,1039.3 1065.0,1039.3 1067.0,1039.3 1069.0,1039.3 1071.0,1039.4 1073.0,1039.5 1075.0,1039.5 1077.0,1039.6 1079.0,1039.7 1081.0,1039.8 1083.0,1039.9 1085.0,1040.0 1087.0,1040.1 1089.0,1040.2 1091.0,1040.3 1093.0,1040.3 1095.0,1040.4 1097.0,1040.4 1099.0,1040.4 1101.0,1040.3 1103.0,1040.3 1105.0,1040.1 1107.0,1040.0 1109.0,1039.8 1111.0,1039.6 1113.0,1039.4 1115.0,1039.2 1117.0,1038.9 1119.0,1038.7 1121.0,1038.4 1123.0,1038.1 1125.0,1037.7 1127.0,1037.3 1129.0,1036.8 1131.0,1036.2 1133.0,1035.6 1135.0,1034.9 1137.0,1034.2 1139.0,1033.6 1141.0,1032.9 1143.0,1032.2 1145.0,1031.5 1147.0,1030.8 1149.0,1030.0 1151.0,1029.2 1153.0,1028.4 1155.0,1027.6 1157.0,1026.7 1159.0,1025.8 1161.0,1024.9 1163.0,1024.0 1165.0,1023.1 1167.0,1022.1 1169.0,1021.1 1171.0,1020.1 1173.0,1019.1 1175.0,1018.0 1177.0,1016.9 1179.0,1015.8 1181.0,1014.6 1183.0,1013.3 1185.0,1012.1 1187.0,1010.7 1189.0,1009.3 1191.0,1007.9 1193.0,1006.4 1195.0,1004.8 1197.0,1003.2 1199.0,1001.5 1201.0,999.8 1203.0,998.0 1205.0,996.2 1207.0,994.3 1209.0,992.4 1211.0,990.4 1213.0,988.4 1215.0,986.3 1217.0,984.1 1219.0,981.9 1221.0,979.6 1223.0,977.3 1225.0,974.9 1227.0,972.5 1229.0,970.0 1231.0,967.5 1233.0,964.8 1235.0,962.1 1237.0,959.3 1239.0,956.5 1241.0,953.7 1243.0,950.8 1245.0,948.0 1247.0,945.2 1249.0,942.4 1251.0,939.6 1253.0,936.8 1255.0,934.0 1257.0,931.1 1259.0,928.1 1261.0,925.0 1263.0,921.8 1265.0,918.5 1267.0,915.0 1269.0,911.5 1271.0,908.0 1273.0,904.4 1275.0,900.8 1277.0,897.2 1279.0,893.6 1281.0,890.0 1283.0,886.4 1285.0,882.7 1287.0,879.0 1289.0,875.3 1291.0,871.5 1293.0,867.6 1295.0,863.6 1297.0,859.6 1299.0,855.5 1301.0,851.5 1303.0,847.4 1305.0,843.4 1307.0,839.4 1309.0,835.4 1311.0,831.5 1313.0,827.5 1315.0,823.5 1317.0,819.5 1319.0,815.5 1321.0,811.5 1323.0,807.5 1325.0,803.5 1327.0,799.5 1329.0,795.5 1331.0,791.4 1333.0,787.2 1335.0,783.1 1337.0,778.9 1339.0,774.7 1341.0,770.5 1343.0,766.3 1345.0,762.1 1347.0,757.9 1349.0,753.7 1351.0,749.4 1353.0,745.2 1355.0,741.0 1357.0,736.8 1359.0,732.7 1361.0,728.8 1363.0,724.9 1365.0,720.9 1367.0,717.0 1369.0,713.3 1371.0,710.0 1373.0,707.3 1375.0,704.8 1377.0,702.5 1379.0,700.4 1381.0,698.6 1383.0,697.3 1385.0,696.3 1387.0,695.4 1389.0,694.9 1391.0,694.9 1393.0,695.3 1395.0,696.0 1397.0,697.0 1399.0,698.2 1401.0,700.1 1403.0,702.9 1405.0,706.2 1407.0,709.7 1409.0,713.2 1411.0,716.8 1413.0,720.7 1415.0,724.8 1417.0,729.2 1419.0,733.7 1421.0,738.4 1423.0,743.3 1425.0,748.6 1427.0,754.3 1429.0,760.1 1431.0,766.0 1433.0,772.0 1435.0,778.3 1437.0,784.7 1439.0,791.3 1441.0,797.8 1443.0,804.3 1445.0,810.7 1447.0,817.2 1449.0,823.6 1451.0,830.0 1453.0,836.3 1455.0,842.5 1457.0,848.6 1459.0,854.6 1461.0,860.6 1463.0,866.5 1465.0,872.3 1467.0,878.1 1469.0,883.9 1471.0,889.7 1473.0,895.2 1475.0,900.5 1477.0,905.4 1479.0,910.3 1481.0,915.1 1483.0,919.6 1485.0,923.8 1487.0,927.6 1489.0,930.9 1491.0,933.7 1493.0,936.3 1495.0,938.8 1497.0,941.0 1499.0,943.1 1501.0,945.1 1503.0,947.0 1505.0,948.8 1507.0,950.5 1509.0,952.0 1511.0,953.5 1513.0,954.9 1515.0,956.4 1517.0,957.8 1519.0,959.4 1521.0,961.0 1523.0,962.7 1525.0,964.4 1527.0,966.1 1529.0,967.8 1531.0,969.6 1533.0,971.5 1535.0,973.4 1537.0,975.4 1539.0,977.5 1541.0,979.7 1543.0,982.0 1545.0,984.5 1547.0,987.1 1549.0,989.8 1551.0,992.5 1553.0,995.2 1555.0,998.0 1557.0,1001.0 1559.0,1004.0 1561.0,1007.0 1563.0,1010.0 1565.0,1012.9 1567.0,1015.7 1569.0,1018.3 1571.0,1020.9 1573.0,1023.5 1575.0,1026.1 1577.0,1028.9 1579.0,1031.9 1581.0,1034.9 1583.0,1037.9 1585.0,1041.0 1587.0,1043.9 1589.0,1046.7 1591.0,1049.5 1593.0,1052.2 1595.0,1054.8 1597.0,1057.4 1599.0,1059.9 1601.0,1062.4 1603.0,1064.8 1605.0,1067.1 1607.0,1069.4 1609.0,1071.6 1611.0,1073.8 1613.0,1075.8 1615.0,1077.8 1617.0,1079.8 1619.0,1081.7 1621.0,1083.6 1623.0,1085.3 1625.0,1086.9 1627.0,1088.4 1629.0,1089.9 1631.0,1091.2 1633.0,1092.6 1635.0,1093.8 1637.0,1094.9 1639.0,1096.0 1641.0,1097.0 1643.0,1097.9 1645.0,1098.8 1647.0,1099.6 1649.0,1100.4 1651.0,1101.2 1653.0,1101.9 1655.0,1102.7 1657.0,1103.3 1659.0,1104.0 1661.0,1104.7 1663.0,1105.4 1665.0,1106.1 1667.0,1107.0 1669.0,1107.9 1671.0,1109.0 1673.0,1110.0 1675.0,1111.1 1677.0,1112.1 1679.0,1113.2 1681.0,1114.2 1683.0,1115.2 1685.0,1116.3 1687.0,1117.4 1689.0,1118.3 1691.0,1119.3 1693.0,1120.1 1695.0,1121.0 1697.0,1121.8 1699.0,1122.5 1701.0,1123.2 1703.0,1123.8 1705.0,1124.3 1707.0,1124.7 1709.0,1125.0 1711.0,1125.3 1713.0,1125.6 1715.0,1125.8 1717.0,1126.1 1719.0,1126.4 1721.0,1126.6 1723.0,1126.9 1725.0,1127.2 1727.0,1127.4 1729.0,1127.7 1731.0,1128.0 1733.0,1128.4 1735.0,1128.8 1737.0,1129.3 1739.0,1129.8 1741.0,1130.4 1743.0,1130.9 1745.0,1131.5 1747.0,1132.0 1749.0,1132.5 1751.0,1132.9 1753.0,1133.4 1755.0,1133.9 1757.0,1134.4 1759.0,1134.9 1761.0,1135.4 1763.0,1136.0 1765.0,1136.6 1767.0,1137.2 1769.0,1137.8 1771.0,1138.5 1773.0,1139.1 1775.0,1139.8 1777.0,1140.4 1779.0,1141.0 1781.0,1141.6 1783.0,1142.2 1785.0,1142.8 1787.0,1143.4 1789.0,1144.0 1791.0,1144.6 1793.0,1145.2 1795.0,1145.7 1795.6,1145.9"/>
<polyline stroke="#ff4040" points="403.0,1024.0 405.0,1024.0 407.0,1024.0 409.0,1024.0 411.0,1024.0 413.0,1024.0 415.0,1024.0 417.0,1024.0 419.0,1024.0 421.0,1024.0 423.0,1024.0 425.0,1024.0 427.0,1024.0 429.0,1024.0 431.0,1024.0 433.0,1024.0 435.0,1024.0 437.0,1024.0 439.0,1024.0 441.0,1024.0 443.0,1024.0 445.0,1024.0 447.0,1024.0 449.0,1024.0 451.0,1024.0 453.0,1024.0 455.0,1024.0 457.0,1024.0 459.0,1023.9 461.0,1023.9 463.0,1023.9 465.0,1023.9 467.0,1023.9 469.0,1023.9 471.0,1023.9 473.0,1023.9 475.0,1023.9 477.0,1023.9 479.0,1023.9 481.0,1023.9 483.0,1023.8 485.0,1023.8 487.0,1023.8 489.0,1023.8 491.0,1023.8 493.0,1023.8 495.0,1023.8 497.0,1023.8 499.0,1023.7 501.0,1023.7 503.0,1023.7 505.0,1023.7 507.0,1023.7 509.0,1023.7 511.0,1023.7 513.0,1023.6 515.0,1023.6 517.0,1023.6 519.0,1023.6 521.0,1023.6 523.0,1023.6 525.0,1023.5 527.0,1023.5 529.0,1023.5 531.0,1023.5 533.0,1023.5 535.0,1023.4 537.0,1023.4 539.0,1023.4 541.0,1023.3 543.0,1023.3 545.0,1023.3 547.0,1023.2 549.0,1023.2 551.0,1023.1 553.0,1023.0 555.0,1023.0 557.0,1022.9 559.0,1022.9 561.0,1022.8 563.0,1022.7 565.0,1022.7 567.0,1022.6 569.0,1022.5 571.0,1022.4 573.0,1022.3 575.0,1022.3 577.0,1022.2 579.0,1022.1 581.0,1022.0 583.0,1021.9 585.0,1021.8 587.0,1021.7 589.0,1021.6 591.0,1021.4 593.0,1021.3 595.0,1021.2 597.0,1021.0 599.0,1020.9 601.0,1020.7 603.0,1020.6 605.0,1020.4 607.0,1020.3 609.0,1020.1 611.0,1020.0 613.0,1019.9 615.0,1019.7 617.0,1019.5 619.0,1019.4 621.0,1019.2 623.0,1019.1 625.0,1018.9 627.0,1018.7 629.0,1018.5 631.0,1018.4 633.0,1018.2 635.0,1018.0 637.0,1017.8 639.0,1017.6 641.0,1017.4 643.0,1017.2 645.0,1017.0 647.0,1016.7 649.0,1016.5 651.0,1016.3 653.0,1016.0 655.0,1015.8 657.0,1015.5 659.0,1015.3 661.0,1015.0 663.0,1014.7 665.0,1014.4 667.0,1014.2 669.0,1013.9 671.0,1013.6 673.0,1013.3 675.0,1013.0 677.0,1012.6 679.0,1012.3 681.0,1012.0 683.0,1011.7 685.0,1011.3 687.0,1011.0 689.0,1010.7 691.0,1010.3 693.0,1009.9 695.0,1009.5 697.0,1009.2 699.0,1008.8 701.0,1008.4 703.0,1007.9 705.0,1007.5 707.0,1007.1 709.0,1006.6 711.0,1006.2 713.0,1005.7 715.0,1005.2 717.0,1004.8 719.0,1004.3 721.0,1003.8 723.0,1003.3 725.0,1002.7 727.0,1002.2 729.0,1001.7 731.0,1001.1 733.0,1000.6 735.0,1000.0 737.0,999.4 739.0,998.8 741.0,998.2 743.0,997.6 745.0,997.0 747.0,996.3 749.0,995.7 751.0,995.0 753.0,994.3 755.0,993.6 757.0,992.9 759.0,992.1 761.0,991.4 763.0,990.6 765.0,989.8 767.0,989.0 769.0,988.1 771.0,987.3 773.0,986.4 775.0,985.5 777.0,984.6 779.0,983.6 781.0,982.5 783.0,981.4 785.0,980.3 787.0,979.2 789.0,978.0 791.0,976.8 793.0,975.5 795.0,974.2 797.0,972.9 799.0,971.6 801.0,970.3 803.0,968.9 805.0,967.5 807.0,966.2 809.0,964.8 811.0,963.3 813.0,961.9 815.0,960.3 817.0,958.8 819.0,957.2 821.0,955.6 823.0,953.8 825.0,952.1 827.0,950.2 829.0,948.3 831.0,946.3 833.0,944.2 835.0,942.0 837.0,939.7 839.0,937.3 841.0,934.9 843.0,932.4 845.0,929.8 847.0,927.1 849.0,924.4 851.0,921.6 853.0,918.8 855.0,915.8 857.0,912.8 859.0,909.6 861.0,906.3 863.0,902.9 865.0,899.3 867.0,895.6 869.0,891.6 871.0,887.3 873.0,882.8 875.0,878.0 877.0,873.1 879.0,868.0 881.0,862.7 883.0,857.2 885.0,851.5 887.0,845.5 889.0,839.2 891.0,832.7 893.0,825.9 895.0,818.6 897.0,811.0 899.0,803.1 901.0,794.7 903.0,785.5 905.0,775.9 907.0,766.6 909.0,757.9 911.0,750.0 913.0,742.6 915.0,735.3 917.0,728.1 919.0,720.7 921.0,712.9 923.0,704.7 925.0,696.3 927.0,687.7 929.0,678.8 931.0,669.6 933.0,660.0 935.0,649.5 937.0,638.7 939.0,627.9 941.0,617.8 943.0,608.5 945.0,599.5 947.0,590.8 949.0,582.2 951.0,573.5 953.0,564.6 955.0,555.6 957.0,546.6 959.0,537.8 961.0,529.0 963.0,521.2 965.0,513.8 967.0,506.8 969.0,500.4 971.0,494.0 973.0,487.8 975.0,482.0 977.0,476.8 979.0,472.4 981.0,468.6 983.0,465.1 985.0,462.0 987.0,459.3 989.0,456.9 991.0,455.0 993.0,453.1 995.0,451.5 997.0,450.0 999.0,448.9 1001.0,448.3 1003.0,447.9 1005.0,447.5 1007.0,447.3 1009.0,447.3 1011.0,447.6 1013.0,448.2 1015.0,449.0 1017.0,449.9 1019.0,451.0 1021.0,452.9 1023.0,455.2 1025.0,457.2 1027.0,459.2 1029.0,461.1 1031.0,463.1 1033.0,465.2 1035.0,467.4 1037.0,469.7 1039.0,472.1 1041.0,474.6 1043.0,477.1 1045.0,479.6 1047.0,482.1 1049.0,484.7 1051.0,487.3 1053.0,490.0 1055.0,492.6 1057.0,495.3 1059.0,497.9 1061.0,500.4 1063.0,502.9 1065.0,505.4 1067.0,508.0 1069.0,510.5 1071.0,513.0 1073.0,515.4 1075.0,517.9 1077.0,520.2 1079.0,522.5 1081.0,524.7 1083.0,526.9 1085.0,528.9 1087.0,530.8 1089.0,532.7 1091.0,534.5 1093.0,536.2 1095.0,538.0 1097.0,539.7 1099.0,541.4 1101.0,543.2 1103.0,545.0 1105.0,546.8 1107.0,548.7 1109.0,550.6 1111.0,552.5 1113.0,554.5 1115.0,556.5 1117.0,558.6 1119.0,560.7 1121.0,562.9 1123.0,565.1 1125.0,567.5 1127.0,569.8 1129.0,572.3 1131.0,574.8 1133.0,577.4 1135.0,580.1 1137.0,582.8 1139.0,585.6 1141.0,588.5 1143.0,591.6 1145.0,594.7 1147.0,597.9 1149.0,601.2 1151.0,604.5 1153.0,607.8 1155.0,611.1 1157.0,614.5 1159.0,617.9 1161.0,621.4 1163.0,624.9 1165.0,628.4 1167.0,632.0 1169.0,635.7 1171.0,639.4 1173.0,643.2 1175.0,647.1 1177.0,651.0 1179.0,655.0 1181.0,659.1 1183.0,663.1 1185.0,667.2 1187.0,671.4 1189.0,675.5 1191.0,679.7 1193.0,683.9 1195.0,688.1 1197.0,692.4 1199.0,696.7 1201.0,701.0 1203.0,705.3 1205.0,709.6 1207.0,713.8 1209.0,718.0 1211.0,722.2 1213.0,726.4 1215.0,730.6 1217.0,735.0 1219.0,739.4 1221.0,744.0 1223.0,748.9 1225.0,754.0 1227.0,758.9 1229.0,763.3 1231.0,767.6 1233.0,771.7 1235.0,775.7 1237.0,779.7 1239.0,783.7 1241.0,787.7 1243.0,791.8 1245.0,795.7 1247.0,799.7 1249.0,803.7 1251.0,807.7 1253.0,811.7 1255.0,815.8 1257.0,819.8 1259.0,823.7 1261.0,827.6 1263.0,831.3 1265.0,835.0 1267.0,838.6 1269.0,842.2 1271.0,845.7 1273.0,849.4 1275.0,853.0 1277.0,856.6 1279.0,860.2 1281.0,863.8 1283.0,867.2 1285.0,870.5 1287.0,873.7 1289.0,876.9 1291.0,880.0 1293.0,883.1 1295.0,886.2 1297.0,889.4 1299.0,892.5 1301.0,895.5 1303.0,898.4 1305.0,901.1 1307.0,903.7 1309.0,906.2 1311.0,908.6 1313.0,910.9 1315.0,913.1 1317.0,915.2 1319.0,917.3 1321.0,919.4 1323.0,921.3 1325.0,923.2 1327.0,925.0 1329.0,926.6 1331.0,928.2 1333.0,929.8 1335.0,931.3 1337.0,932.8 1339.0,934.3 1341.0,935.8 1343.0,937.2 1345.0,938.6 1347.0,939.9 1349.0,941.1 1351.0,942.2 1353.0,943.3 1355.0,944.4 1357.0,945.4 1359.0,946.4 1361.0,947.3 1363.0,948.3 1365.0,949.2 1367.0,950.1 1369.0,951.0 1371.0,952.0 1373.0,952.9 1375.0,953.8 1377.0,954.7 1379.0,955.6 1381.0,956.5 1383.0,957.3 1385.0,958.0 1387.0,958.7 1389.0,959.3 1391.0,959.9 1393.0,960.5 1395.0,961.1 1397.0,961.6 1399.0,962.2 1401.0,962.8 1403.0,963.4 1405.0,964.0 1407.0,964.6 1409.0,965.3 1411.0,965.9 1413.0,966.5 1415.0,967.1 1417.0,967.7 1419.0,968.3 1421.0,968.9 1423.0,969.5 1425.0,970.0 1427.0,970.6 1429.0,971.2 1431.0,971.7 1433.0,972.3 1435.0,972.8 1437.0,973.3 1439.0,973.8 1441.0,974.3 1443.0,974.6 1445.0,975.0 1447.0,975.3 1449.0,975.5 1451.0,975.8 1453.0,976.1 1455.0,976.4 1457.0,976.6 1459.0,976.8 1461.0,977.0 1463.0,977.1 1465.0,977.2 1467.0,977.2 1469.0,977.2 1471.0,977.0 1473.0,976.8 1475.0,976.6 1477.0,976.3 1479.0,976.0 1481.0,975.6 1483.0,975.2 1485.0,974.9 1487.0,974.4 1489.0,973.8 1491.0,973.1 1493.0,972.4 1495.0,971.6 1497.0,970.7 1499.0,969.8 1501.0,968.8 1503.0,967.8 1505.0,966.7 1507.0,965.5 1509.0,964.2 1511.0,962.8 1513.0,961.4 1515.0,959.8 1517.0,958.2 1519.0,956.5 1521.0,954.7 1523.0,952.7 1525.0,950.6 1527.0,948.4 1529.0,946.1 1531.0,943.7 1533.0,941.3 1535.0,938.8 1537.0,936.4 1539.0,933.9 1541.0,931.3 1543.0,928.6 1545.0,925.9 1547.0,923.1 1549.0,920.3 1551.0,917.4 1553.0,914.5 1555.0,911.5 1557.0,908.4 1559.0,905.3 1561.0,902.0 1563.0,898.8 1565.0,895.4 1567.0,892.1 1569.0,888.7 1571.0,885.3 1573.0,881.9 1575.0,878.5 1577.0,875.0 1579.0,871.6 1581.0,868.1 1583.0,864.5 1585.0,861.0 1587.0,857.4 1589.0,853.8 1591.0,850.1 1593.0,846.4 1595.0,842.7 1597.0,838.9 1599.0,835.1 1601.0,831.3 1603.0,827.5 1605.0,823.7 1607.0,819.9 1609.0,816.1 1611.0,812.3 1613.0,808.4 1615.0,804.6 1617.0,800.7 1619.0,796.9 1621.0,793.0 1623.0,789.2 1625.0,785.4 1627.0,781.6 1629.0,777.9 1631.0,774.1 1633.0,770.4 1635.0,766.7 1637.0,763.0 1639.0,759.3 1641.0,755.6 1643.0,752.0 1645.0,748.5 1647.0,744.9 1649.0,741.5 1651.0,738.2 1653.0,734.9 1655.0,731.7 1657.0,728.6 1659.0,725.6 1661.0,722.6 1663.0,719.7 1665.0,716.7 1667.0,713.8 1669.0,710.9 1671.0,708.1 1673.0,705.3 1675.0,702.5 1677.0,699.8 1679.0,697.0 1681.0,694.2 1683.0,691.5 1685.0,688.7 1687.0,685.9 1689.0,683.0 1691.0,680.1 1693.0,677.1 1695.0,674.3 1697.0,671.5 1699.0,668.9 1701.0,666.5 1703.0,664.3 1705.0,662.2 1707.0,660.1 1709.0,658.1 1711.0,656.2 1713.0,654.4 1715.0,652.8 1717.0,651.4 1719.0,650.3 1721.0,649.4 1723.0,648.5 1725.0,647.6 1727.0,646.8 1729.0,646.1 1731.0,645.5 1733.0,645.0 1735.0,644.7 1737.0,644.6 1739.0,644.6 1741.0,644.8 1743.0,645.0 1745.0,645.3 1747.0,645.6 1749.0,646.0 1751.0,646.6 1753.0,647.4 1755.0,648.5 1757.0,649.7 1759.0,650.9 1761.0,652.3 1763.0,653.8 1765.0,655.5 1767.0,657.5 1769.0,659.6 1771.0,661.9 1773.0,664.2 1775.0,666.5 1777.0,669.0 1779.0,671.6 1781.0,674.3 1783.0,677.1 1785.0,679.9 1787.0,682.6 1789.0,685.3 1791.0,688.0 1793.0,690.7 1795.0,693.4 1796.7,695.7"/>
<polyline stroke="#0571ea" points="403.0,1019.0 405.0,1019.1 407.0,1019.1 409.0,1019.2 411.0,1019.2 413.0,1019.3 415.0,1019.3 417.0,1019.3 419.0,1019.4 421.0,1019.4 423.0,1019.4 425.0,1019.4 427.0,1019.4 429.0,1019.5 431.0,1019.5 433.0,1019.5 435.0,1019.5 437.0,1019.5 439.0,1019.5 441.0,1019.5 443.0,1019.5 445.0,1019.5 447.0,1019.5 449.0,1019.5 451.0,1019.5 453.0,1019.4 455.0,1019.2 457.0,1019.0 459.0,1018.7 461.0,1018.4 463.0,1018.1 465.0,1017.7 467.0,1017.3 469.0,1017.0 471.0,1016.6 473.0,1016.3 475.0,1016.0 477.0,1015.7 479.0,1015.4 481.0,1015.1 483.0,1014.8 485.0,1014.5 487.0,1014.2 489.0,1013.9 491.0,1013.6 493.0,1013.4 495.0,1013.2 497.0,1013.1 499.0,1013.0 501.0,1013.0 503.0,1013.0 505.0,1013.0 507.0,1013.0 509.0,1013.1 511.0,1013.1 513.0,1013.1 515.0,1013.2 517.0,1013.2 519.0,1013.3 521.0,1013.4 523.0,1013.4 525.0,1013.5 527.0,1013.7 529.0,1014.0 531.0,1014.4 533.0,1014.8 535.0,1015.3 537.0,1015.8 539.0,1016.3 541.0,1016.7 543.0,1016.9 545.0,1017.0 547.0,1017.0 549.0,1017.0 551.0,1017.0 553.0,1017.0 555.0,1017.0 557.0,1017.0 559.0,1017.0 561.0,1017.0 563.0,1017.0 565.0,1017.0 567.0,1017.0 569.0,1017.0 571.0,1017.0 573.0,1017.0 575.0,1017.0 577.0,1017.0 579.0,1017.0 581.0,1017.0 583.0,1016.9 585.0,1016.6 587.0,1016.3 589.0,1016.0 591.0,1015.5 593.0,1015.1 595.0,1014.6 597.0,1014.2 599.0,1013.7 601.0,1013.3 603.0,1012.9 605.0,1012.4 607.0,1011.9 609.0,1011.4 611.0,1010.9 613.0,1010.4 615.0,1009.9 617.0,1009.3 619.0,1008.8 621.0,1008.2 623.0,1007.7 625.0,1007.1 627.0,1006.6 629.0,1006.0 631.0,1005.4 633.0,1004.8 635.0,1004.2 637.0,1003.5 639.0,1002.9 641.0,1002.2 643.0,1001.5 645.0,1000.7 647.0,1000.0 649.0,999.2 651.0,998.4 653.0,997.6 655.0,996.7 657.0,995.9 659.0,994.9 661.0,994.0 663.0,993.1 665.0,992.1 667.0,991.0 669.0,990.0 671.0,988.9 673.0,987.8 675.0,986.6 677.0,985.4 679.0,984.1 681.0,982.7 683.0,981.3 685.0,979.7 687.0,978.1 689.0,976.5 691.0,974.8 693.0,973.0 695.0,971.3 697.0,969.4 699.0,967.6 701.0,965.7 703.0,963.7 705.0,961.6 707.0,959.5 709.0,957.4 711.0,955.1 713.0,952.8 715.0,950.5 717.0,948.0 719.0,945.6 721.0,943.0 723.0,940.4 725.0,937.6 727.0,934.8 729.0,931.9 731.0,928.9 733.0,925.9 735.0,922.7 737.0,919.5 739.0,916.1 741.0,912.7 743.0,909.2 745.0,905.5 747.0,901.7 749.0,897.7 751.0,893.6 753.0,889.4 755.0,885.0 757.0,880.6 759.0,876.0 761.0,871.2 763.0,866.2 765.0,861.1 767.0,855.9 769.0,850.7 771.0,845.4 773.0,839.9 775.0,834.2 777.0,828.5 779.0,822.8 781.0,817.0 783.0,811.1 785.0,805.2 787.0,799.3 789.0,793.2 791.0,787.0 793.0,780.8 795.0,774.4 797.0,767.9 799.0,761.1 801.0,753.9 803.0,746.4 805.0,738.8 807.0,730.9 809.0,722.9 811.0,714.7 813.0,706.5 815.0,698.3 817.0,690.0 819.0,681.7 821.0,673.3 823.0,664.8 825.0,656.2 827.0,647.6 829.0,638.8 831.0,630.1 833.0,621.2 835.0,612.1 837.0,602.8 839.0,593.5 841.0,584.3 843.0,575.4 845.0,566.8 847.0,559.0 849.0,551.7 851.0,544.1 853.0,535.6 855.0,525.9 857.0,515.7 859.0,505.2 861.0,495.1 863.0,485.5 865.0,476.0 867.0,466.7 869.0,457.5 871.0,448.6 873.0,440.0 875.0,431.4 877.0,422.9 879.0,414.7 881.0,407.0 883.0,399.9 885.0,393.6 887.0,387.6 889.0,382.0 891.0,376.7 893.0,371.9 895.0,367.5 897.0,363.3 899.0,359.3 901.0,355.6 903.0,352.3 905.0,349.5 907.0,346.9 909.0,344.6 911.0,342.4 913.0,340.6 915.0,339.1 917.0,338.0 919.0,337.1 921.0,336.2 923.0,335.7 925.0,335.5 927.0,335.7 929.0,336.2 931.0,337.0 933.0,338.0 935.0,339.1 937.0,340.5 939.0,342.8 941.0,345.9 943.0,349.4 945.0,353.1 947.0,356.7 949.0,360.4 951.0,364.4 953.0,368.6 955.0,373.1 957.0,377.7 959.0,382.6 961.0,387.9 963.0,393.4 965.0,399.2 967.0,405.1 969.0,411.3 971.0,417.8 973.0,424.6 975.0,431.6 977.0,438.7 979.0,445.7 981.0,452.8 983.0,460.0 985.0,467.2 987.0,474.4 989.0,481.6 991.0,488.8 993.0,495.9 995.0,503.1 997.0,510.3 999.0,517.4 1001.0,524.7 1003.0,532.0 1005.0,539.3 1007.0,546.5 1009.0,553.7 1011.0,560.9 1013.0,568.2 1015.0,575.5 1017.0,583.0 1019.0,590.6 1021.0,598.2 1023.0,605.9 1025.0,613.6 1027.0,621.3 1029.0,628.9 1031.0,636.4 1033.0,643.8 1035.0,651.0 1037.0,658.1 1039.0,665.1 1041.0,672.0 1043.0,678.8 1045.0,685.5 1047.0,692.0 1049.0,698.4 1051.0,704.7 1053.0,710.9 1055.0,717.0 1057.0,723.0 1059.0,728.9 1061.0,734.7 1063.0,740.3 1065.0,745.8 1067.0,751.2 1069.0,756.4 1071.0,761.5 1073.0,766.5 1075.0,771.4 1077.0,776.2 1079.0,780.8 1081.0,785.3 1083.0,789.7 1085.0,793.9 1087.0,798.0 1089.0,802.0 1091.0,805.9 1093.0,809.7 1095.0,813.3 1097.0,816.8 1099.0,820.2 1101.0,823.4 1103.0,826.5 1105.0,829.5 1107.0,832.4 1109.0,835.2 1111.0,837.8 1113.0,840.4 1115.0,842.9 1117.0,845.4 1119.0,847.9 1121.0,850.3 1123.0,852.7 1125.0,854.9 1127.0,857.1 1129.0,859.1 1131.0,861.2 1133.0,863.2 1135.0,865.2 1137.0,867.2 1139.0,869.1 1141.0,871.0 1143.0,873.0 1145.0,874.9 1147.0,876.8 1149.0,878.6 1151.0,880.4 1153.0,882.2 1155.0,883.9 1157.0,885.6 1159.0,887.3 1161.0,888.9 1163.0,890.5 1165.0,892.1 1167.0,893.6 1169.0,895.1 1171.0,896.5 1173.0,897.9 1175.0,899.2 1177.0,900.5 1179.0,901.7 1181.0,902.9 1183.0,904.0 1185.0,905.0 1187.0,906.0 1189.0,906.9 1191.0,907.7 1193.0,908.5 1195.0,909.3 1197.0,909.9 1199.0,910.6 1201.0,911.2 1203.0,911.8 1205.0,912.3 1207.0,912.9 1209.0,913.4 1211.0,913.9 1213.0,914.4 1215.0,914.8 1217.0,915.3 1219.0,915.8 1221.0,916.2 1223.0,916.7 1225.0,917.2 1227.0,917.6 1229.0,918.0 1231.0,918.4 1233.0,918.8 1235.0,919.2 1237.0,919.5 1239.0,919.8 1241.0,920.1 1243.0,920.3 1245.0,920.6 1247.0,920.9 1249.0,921.1 1251.0,921.4 1253.0,921.6 1255.0,921.8 1257.0,921.9 1259.0,922.0 1261.0,922.0 1263.0,922.0 1265.0,921.9 1267.0,921.7 1269.0,921.5 1271.0,921.3 1273.0,921.1 1275.0,920.8 1277.0,920.5 1279.0,920.3 1281.0,920.0 1283.0,919.8 1285.0,919.5 1287.0,919.2 1289.0,919.0 1291.0,918.7 1293.0,918.4 1295.0,918.1 1297.0,917.8 1299.0,917.5 1301.0,917.1 1303.0,916.7 1305.0,916.4 1307.0,915.9 1309.0,915.5 1311.0,915.0 1313.0,914.5 1315.0,913.9 1317.0,913.4 1319.0,912.9 1321.0,912.3 1323.0,911.8 1325.0,911.3 1327.0,910.8 1329.0,910.3 1331.0,909.7 1333.0,909.2 1335.0,908.7 1337.0,908.2 1339.0,907.8 1341.0,907.3 1343.0,906.8 1345.0,906.3 1347.0,905.9 1349.0,905.4 1351.0,905.0 1353.0,904.6 1355.0,904.1 1357.0,903.7 1359.0,903.3 1361.0,902.9 1363.0,902.5 1365.0,902.1 1367.0,901.8 1369.0,901.4 1371.0,901.1 1373.0,900.7 1375.0,900.4 1377.0,900.1 1379.0,899.8 1381.0,899.5 1383.0,899.2 1385.0,899.0 1387.0,898.8 1389.0,898.6 1391.0,898.4 1393.0,898.2 1395.0,898.1 1397.0,897.9 1399.0,897.8 1401.0,897.8 1403.0,897.8 1405.0,897.9 1407.0,898.1 1409.0,898.3 1411.0,898.6 1413.0,898.9 1415.0,899.2 1417.0,899.6 1419.0,900.0 1421.0,900.5 1423.0,900.9 1425.0,901.4 1427.0,901.9 1429.0,902.6 1431.0,903.4 1433.0,904.2 1435.0,905.1 1437.0,906.0 1439.0,906.9 1441.0,907.9 1443.0,908.8 1445.0,909.7 1447.0,910.6 1449.0,911.6 1451.0,912.7 1453.0,913.8 1455.0,914.8 1457.0,915.9 1459.0,917.0 1461.0,918.0 1463.0,919.0 1465.0,919.9 1467.0,920.7 1469.0,921.5 1471.0,922.3 1473.0,923.1 1475.0,923.9 1477.0,924.6 1479.0,925.2 1481.0,925.7 1483.0,925.9 1485.0,926.0 1487.0,926.0 1489.0,926.0 1491.0,926.0 1493.0,926.0 1495.0,926.0 1497.0,926.0 1499.0,926.0 1501.0,925.9 1503.0,925.6 1505.0,925.0 1507.0,924.3 1509.0,923.4 1511.0,922.5 1513.0,921.5 1515.0,920.4 1517.0,918.9 1519.0,917.3 1521.0,915.5 1523.0,913.6 1525.0,911.6 1527.0,909.5 1529.0,907.2 1531.0,904.6 1533.0,901.9 1535.0,899.0 1537.0,896.0 1539.0,893.1 1541.0,890.0 1543.0,886.8 1545.0,883.5 1547.0,880.1 1549.0,876.6 1551.0,873.0 1553.0,869.3 1555.0,865.5 1557.0,861.5 1559.0,857.4 1561.0,853.1 1563.0,848.7 1565.0,844.2 1567.0,839.5 1569.0,834.8 1571.0,829.9 1573.0,824.8 1575.0,819.5 1577.0,814.1 1579.0,808.6 1581.0,803.2 1583.0,797.9 1585.0,792.5 1587.0,787.1 1589.0,781.7 1591.0,776.3 1593.0,771.0 1595.0,765.7 1597.0,760.6 1599.0,755.6 1601.0,750.6 1603.0,745.6 1605.0,740.4 1607.0,735.0 1609.0,729.3 1611.0,723.4 1613.0,717.4 1615.0,711.2 1617.0,704.9 1619.0,698.6 1621.0,692.2 1623.0,685.6 1625.0,679.0 1627.0,672.2 1629.0,665.5 1631.0,658.7 1633.0,652.0 1635.0,645.3 1637.0,638.7 1639.0,632.1 1641.0,625.5 1643.0,618.9 1645.0,612.4 1647.0,605.9 1649.0,599.5 1651.0,593.2 1653.0,587.1 1655.0,581.0 1657.0,575.0 1659.0,569.0 1661.0,563.0 1663.0,557.0 1665.0,551.0 1667.0,545.0 1669.0,538.9 1671.0,532.9 1673.0,526.8 1675.0,520.8 1677.0,514.7 1679.0,508.6 1681.0,502.5 1683.0,496.4 1685.0,490.3 1687.0,484.1 1689.0,477.9 1691.0,471.7 1693.0,465.6 1695.0,459.5 1697.0,453.5 1699.0,447.8 1701.0,442.2 1703.0,436.4 1705.0,430.0 1707.0,422.7 1709.0,414.7 1711.0,406.3 1713.0,397.9 1715.0,389.0 1717.0,379.8 1719.0,370.9 1721.0,362.9 1723.0,355.2 1725.0,347.9 1727.0,341.0 1729.0,334.8 1731.0,329.3 1733.0,324.2 1735.0,319.5 1737.0,315.1 1739.0,311.0 1741.0,307.0 1743.0,303.2 1745.0,299.5 1747.0,296.0 1749.0,292.8 1751.0,289.8 1753.0,287.1 1755.0,284.5 1757.0,282.0 1759.0,279.8 1761.0,277.9 1763.0,276.2 1765.0,274.7 1767.0,273.3 1769.0,272.1 1771.0,271.1 1773.0,270.4 1775.0,269.9 1777.0,269.5 1779.0,269.1 1781.0,268.9 1783.0,268.8 1785.0,269.1 1787.0,269.6 1789.0,270.4 1791.0,271.2 1793.0,272.2 1795.0,273.5 1796.0,274.2"/>
<polyline stroke="#00ad5c" points="403.0,1014.5 405.0,1014.5 407.0,1014.5 409.0,1014.5 411.0,1014.5 413.0,1014.5 415.0,1014.5 417.0,1014.6 419.0,1014.6 421.0,1014.6 423.0,1014.6 425.0,1014.6 427.0,1014.6 429.0,1014.7 431.0,1014.7 433.0,1014.7 435.0,1014.8 437.0,1014.8 439.0,1014.8 441.0,1014.8 443.0,1014.9 445.0,1014.9 447.0,1014.9 449.0,1015.0 451.0,1015.0 453.0,1015.1 455.0,1015.2 457.0,1015.3 459.0,1015.4 461.0,1015.6 463.0,1015.7 465.0,1015.9 467.0,1016.1 469.0,1016.3 471.0,1016.4 473.0,1016.6 475.0,1016.8 477.0,1016.9 479.0,1017.1 481.0,1017.2 483.0,1017.3 485.0,1017.4 487.0,1017.5 489.0,1017.5 491.0,1017.5 493.0,1017.5 495.0,1017.5 497.0,1017.4 499.0,1017.4 501.0,1017.3 503.0,1017.3 505.0,1017.2 507.0,1017.1 509.0,1017.1 511.0,1017.0 513.0,1016.9 515.0,1016.8 517.0,1016.7 519.0,1016.6 521.0,1016.5 523.0,1016.4 525.0,1016.3 527.0,1016.2 529.0,1016.1 531.0,1015.9 533.0,1015.8 535.0,1015.7 537.0,1015.6 539.0,1015.4 541.0,1015.2 543.0,1015.1 545.0,1014.9 547.0,1014.7 549.0,1014.5 551.0,1014.3 553.0,1014.2 555.0,1014.0 557.0,1013.8 559.0,1013.6 561.0,1013.4 563.0,1013.2 565.0,1013.0 567.0,1012.9 569.0,1012.7 571.0,1012.5 573.0,1012.3 575.0,1012.1 577.0,1011.9 579.0,1011.6 581.0,1011.4 583.0,1011.1 585.0,1010.8 587.0,1010.4 589.0,1010.0 591.0,1009.7 593.0,1009.3 595.0,1008.9 597.0,1008.5 599.0,1008.2 601.0,1007.8 603.0,1007.5 605.0,1007.2 607.0,1006.9 609.0,1006.6 611.0,1006.3 613.0,1005.9 615.0,1005.6 617.0,1005.2 619.0,1004.8 621.0,1004.4 623.0,1003.9 625.0,1003.3 627.0,1002.7 629.0,1002.0 631.0,1001.4 633.0,1000.7 635.0,999.9 637.0,999.1 639.0,998.3 641.0,997.4 643.0,996.5 645.0,995.5 647.0,994.5 649.0,993.5 651.0,992.5 653.0,991.4 655.0,990.3 657.0,989.2 659.0,988.0 661.0,986.8 663.0,985.5 665.0,984.1 667.0,982.7 669.0,981.2 671.0,979.6 673.0,978.0 675.0,976.3 677.0,974.5 679.0,972.6 681.0,970.6 683.0,968.6 685.0,966.5 687.0,964.3 689.0,962.0 691.0,959.4 693.0,956.7 695.0,953.9 697.0,950.9 699.0,947.8 701.0,944.6 703.0,941.3 705.0,937.7 707.0,934.1 709.0,930.2 711.0,926.2 713.0,922.0 715.0,917.6 717.0,913.1 719.0,908.4 721.0,903.3 723.0,898.0 725.0,892.5 727.0,886.9 729.0,881.3 731.0,875.8 733.0,870.4 735.0,865.0 737.0,859.5 739.0,853.8 741.0,847.9 743.0,841.6 745.0,835.0 747.0,828.1 749.0,821.1 751.0,814.1 753.0,807.2 755.0,800.2 757.0,793.0 759.0,785.9 761.0,779.2 763.0,773.0 765.0,767.8 767.0,762.9 769.0,756.8 771.0,749.6 773.0,741.7 775.0,733.1 777.0,724.1 779.0,714.8 781.0,705.4 783.0,696.0 785.0,686.8 787.0,677.3 789.0,667.6 791.0,657.8 793.0,647.8 795.0,637.8 797.0,627.8 799.0,617.9 801.0,608.1 803.0,598.2 805.0,588.3 807.0,578.4 809.0,568.5 811.0,558.8 813.0,549.0 815.0,539.3 817.0,529.6 819.0,520.0 821.0,510.5 823.0,501.0 825.0,491.8 827.0,482.7 829.0,473.8 831.0,464.9 833.0,456.0 835.0,446.9 837.0,437.6 839.0,427.9 841.0,417.7 843.0,407.6 845.0,397.6 847.0,388.3 849.0,379.7 851.0,371.7 853.0,364.2 855.0,357.0 857.0,350.1 859.0,343.6 861.0,337.3 863.0,331.2 865.0,325.4 867.0,319.8 869.0,314.7 871.0,309.9 873.0,305.3 875.0,301.0 877.0,296.9 879.0,293.2 881.0,290.0 883.0,287.2 885.0,284.5 887.0,282.1 889.0,280.0 891.0,278.3 893.0,277.2 895.0,276.2 897.0,275.4 899.0,274.7 901.0,274.3 903.0,274.3 905.0,274.7 907.0,275.3 909.0,276.2 911.0,277.1 913.0,278.2 915.0,279.4 917.0,280.9 919.0,282.8 921.0,285.0 923.0,287.4 925.0,289.8 927.0,292.6 929.0,295.6 931.0,298.9 933.0,302.4 935.0,305.8 937.0,309.2 939.0,312.7 941.0,316.2 943.0,319.8 945.0,323.6 947.0,327.5 949.0,331.6 951.0,335.8 953.0,340.2 955.0,344.8 957.0,349.5 959.0,354.3 961.0,359.3 963.0,364.5 965.0,369.8 967.0,375.2 969.0,380.6 971.0,386.0 973.0,391.4 975.0,396.9 977.0,402.7 979.0,408.8 981.0,415.5 983.0,422.9 985.0,430.4 987.0,437.6 989.0,444.2 991.0,450.1 993.0,455.8 995.0,461.3 997.0,466.9 999.0,472.8 1001.0,479.0 1003.0,486.0 1005.0,493.4 1007.0,500.4 1009.0,507.2 1011.0,513.8 1013.0,520.3 1015.0,526.7 1017.0,533.0 1019.0,539.1 1021.0,544.9 1023.0,550.5 1025.0,556.0 1027.0,561.6 1029.0,567.5 1031.0,574.0 1033.0,580.7 1035.0,587.6 1037.0,594.4 1039.0,600.9 1041.0,607.0 1043.0,612.6 1045.0,618.1 1047.0,623.5 1049.0,629.1 1051.0,635.0 1053.0,641.3 1055.0,647.8 1057.0,654.3 1059.0,660.7 1061.0,666.7 1063.0,672.2 1065.0,677.3 1067.0,682.2 1069.0,687.1 1071.0,692.2 1073.0,697.7 1075.0,703.4 1077.0,709.2 1079.0,715.0 1081.0,720.7 1083.0,726.1 1085.0,731.2 1087.0,736.1 1089.0,740.8 1091.0,745.4 1093.0,749.9 1095.0,754.4 1097.0,758.9 1099.0,763.3 1101.0,767.7 1103.0,772.1 1105.0,776.4 1107.0,780.6 1109.0,784.9 1111.0,789.1 1113.0,793.3 1115.0,797.5 1117.0,801.8 1119.0,806.1 1121.0,810.4 1123.0,814.6 1125.0,818.9 1127.0,823.2 1129.0,827.5 1131.0,831.8 1133.0,836.1 1135.0,840.5 1137.0,844.8 1139.0,849.2 1141.0,853.6 1143.0,858.1 1145.0,862.7 1147.0,867.2 1149.0,871.7 1151.0,876.2 1153.0,880.6 1155.0,885.0 1157.0,889.3 1159.0,893.6 1161.0,897.8 1163.0,901.9 1165.0,906.1 1167.0,910.1 1169.0,914.2 1171.0,918.2 1173.0,922.1 1175.0,926.0 1177.0,929.8 1179.0,933.6 1181.0,937.4 1183.0,941.2 1185.0,944.9 1187.0,948.5 1189.0,952.1 1191.0,955.4 1193.0,958.5 1195.0,961.4 1197.0,964.3 1199.0,967.0 1201.0,969.6 1203.0,972.0 1205.0,974.2 1207.0,976.1 1209.0,977.7 1211.0,979.3 1213.0,980.7 1215.0,982.1 1217.0,983.3 1219.0,984.3 1221.0,985.2 1223.0,986.0 1225.0,986.7 1227.0,987.5 1229.0,988.1 1231.0,988.6 1233.0,988.9 1235.0,989.0 1237.0,989.0 1239.0,988.8 1241.0,988.7 1243.0,988.5 1245.0,988.2 1247.0,987.9 1249.0,987.7 1251.0,987.3 1253.0,986.8 1255.0,986.2 1257.0,985.5 1259.0,984.7 1261.0,983.9 1263.0,983.1 1265.0,982.3 1267.0,981.5 1269.0,980.6 1271.0,979.8 1273.0,978.9 1275.0,977.9 1277.0,977.0 1279.0,976.1 1281.0,975.2 1283.0,974.3 1285.0,973.5 1287.0,972.6 1289.0,971.7 1291.0,970.9 1293.0,970.0 1295.0,969.2 1297.0,968.3 1299.0,967.5 1301.0,966.7 1303.0,965.9 1305.0,965.1 1307.0,964.4 1309.0,963.6 1311.0,962.9 1313.0,962.1 1315.0,961.4 1317.0,960.7 1319.0,960.0 1321.0,959.3 1323.0,958.7 1325.0,958.1 1327.0,957.5 1329.0,956.9 1331.0,956.4 1333.0,955.9 1335.0,955.3 1337.0,954.8 1339.0,954.3 1341.0,953.9 1343.0,953.4 1345.0,953.0 1347.0,952.6 1349.0,952.2 1351.0,951.8 1353.0,951.4 1355.0,951.0 1357.0,950.7 1359.0,950.4 1361.0,950.0 1363.0,949.7 1365.0,949.4 1367.0,949.1 1369.0,948.8 1371.0,948.5 1373.0,948.2 1375.0,947.8 1377.0,947.5 1379.0,947.2 1381.0,946.9 1383.0,946.6 1385.0,946.4 1387.0,946.2 1389.0,946.0 1391.0,946.0 1393.0,945.9 1395.0,945.8 1397.0,945.8 1399.0,945.7 1401.0,945.7 1403.0,945.7 1405.0,945.8 1407.0,945.9 1409.0,946.0 1411.0,946.2 1413.0,946.4 1415.0,946.7 1417.0,946.9 1419.0,947.2 1421.0,947.5 1423.0,947.7 1425.0,948.0 1427.0,948.3 1429.0,948.7 1431.0,949.1 1433.0,949.5 1435.0,950.0 1437.0,950.4 1439.0,950.9 1441.0,951.3 1443.0,951.7 1445.0,952.2 1447.0,952.6 1449.0,953.0 1451.0,953.4 1453.0,953.8 1455.0,954.2 1457.0,954.7 1459.0,955.1 1461.0,955.5 1463.0,955.8 1465.0,956.2 1467.0,956.5 1469.0,956.8 1471.0,957.2 1473.0,957.5 1475.0,957.8 1477.0,958.1 1479.0,958.4 1481.0,958.6 1483.0,958.7 1485.0,958.7 1487.0,958.7 1489.0,958.6 1491.0,958.5 1493.0,958.4 1495.0,958.2 1497.0,958.1 1499.0,957.9 1501.0,957.7 1503.0,957.4 1505.0,957.1 1507.0,956.6 1509.0,956.1 1511.0,955.4 1513.0,954.7 1515.0,953.9 1517.0,953.1 1519.0,952.2 1521.0,951.2 1523.0,950.1 1525.0,948.7 1527.0,947.3 1529.0,945.7 1531.0,944.0 1533.0,942.2 1535.0,940.4 1537.0,938.5 1539.0,936.5 1541.0,934.3 1543.0,932.0 1545.0,929.6 1547.0,927.0 1549.0,924.3 1551.0,921.6 1553.0,918.8 1555.0,916.0 1557.0,913.0 1559.0,909.9 1561.0,906.7 1563.0,903.3 1565.0,900.0 1567.0,896.5 1569.0,893.0 1571.0,889.5 1573.0,886.0 1575.0,882.4 1577.0,878.8 1579.0,875.0 1581.0,871.3 1583.0,867.5 1585.0,863.6 1587.0,859.8 1589.0,855.9 1591.0,852.0 1593.0,848.1 1595.0,844.1 1597.0,840.1 1599.0,836.0 1601.0,832.0 1603.0,827.9 1605.0,823.8 1607.0,819.6 1609.0,815.5 1611.0,811.3 1613.0,807.1 1615.0,802.8 1617.0,798.6 1619.0,794.4 1621.0,790.1 1623.0,785.9 1625.0,781.6 1627.0,777.5 1629.0,773.3 1631.0,769.2 1633.0,765.0 1635.0,760.8 1637.0,756.5 1639.0,752.1 1641.0,747.6 1643.0,742.9 1645.0,738.1 1647.0,733.2 1649.0,728.2 1651.0,723.1 1653.0,717.9 1655.0,712.6 1657.0,707.1 1659.0,701.5 1661.0,695.8 1663.0,690.1 1665.0,684.4 1667.0,678.8 1669.0,673.3 1671.0,667.9 1673.0,662.6 1675.0,657.2 1677.0,651.9 1679.0,646.6 1681.0,641.4 1683.0,636.2 1685.0,631.1 1687.0,626.0 1689.0,620.9 1691.0,615.9 1693.0,610.8 1695.0,605.9 1697.0,601.0 1699.0,596.3 1701.0,591.7 1703.0,587.2 1705.0,582.9 1707.0,578.5 1709.0,574.3 1711.0,570.2 1713.0,566.4 1715.0,562.7 1717.0,559.3 1719.0,556.2 1721.0,553.2 1723.0,550.3 1725.0,547.6 1727.0,545.0 1729.0,542.7 1731.0,540.5 1733.0,538.6 1735.0,536.8 1737.0,535.1 1739.0,533.4 1741.0,531.9 1743.0,530.6 1745.0,529.4 1747.0,528.6 1749.0,527.9 1751.0,527.4 1753.0,526.8 1755.0,526.3 1757.0,525.9 1759.0,525.5 1761.0,525.3 1763.0,525.1 1765.0,525.0 1767.0,525.1 1769.0,525.5 1771.0,526.1 1773.0,526.8 1775.0,527.7 1777.0,528.7 1779.0,529.7 1781.0,530.7 1783.0,532.0 1785.0,533.6 1787.0,535.3 1789.0,537.0 1791.0,538.8 1793.0,540.4 1795.0,542.1 1796.7,543.5"/>
</g></g>
<g stroke="#000" stroke-width="6.3" fill="none">
<line x1="570.5" y1="1175" x2="570.5" y2="1197.3"/>
<line x1="1068.1" y1="1175" x2="1068.1" y2="1197.3"/>
<line x1="1565.2" y1="1175" x2="1565.2" y2="1197.3"/>
<line x1="402.8" y1="381.0" x2="425" y2="381.0"/>
<line x1="402.8" y1="703.0" x2="425" y2="703.0"/>
<line x1="402.8" y1="1023.8" x2="425" y2="1023.8"/>
</g>
<rect x="402.8" y="59.4" width="1413.2" height="1137.9" fill="none" stroke="#000" stroke-width="6.3"/>
<text class="tk" x="570.5" y="1283.3" text-anchor="middle">300</text>
<text class="tk" x="1068.6" y="1283.3" text-anchor="middle">350</text>
<text class="tk" x="1564.8" y="1283.3" text-anchor="middle">400</text>
<text class="tk" x="379" y="89.6" text-anchor="end">2×10<tspan class="mn" dx="-2.1" dy="-31.8">−</tspan><tspan class="sup" dx="-1.5" dy="-1.1">12</tspan></text>
<text class="tk" x="379" y="411.2" text-anchor="end">1×10<tspan class="mn" dx="-2.1" dy="-31.8">−</tspan><tspan class="sup" dx="-1.5" dy="-1.1">12</tspan></text>
<text class="tk" x="379" y="732.4" text-anchor="end">5×10<tspan class="mn" dx="-2.1" dy="-31.8">−</tspan><tspan class="sup" dx="-1.5" dy="-1.1">13</tspan></text>
<text class="tk" x="379.6" y="1046.3" text-anchor="end">0</text>
<text class="ax" x="1109.5" y="1427.3" text-anchor="middle">Temperature (K)</text>
<text class="ax" transform="translate(94.7 629) rotate(-90)" text-anchor="middle">Current (A)</text>
<rect x="1176" y="135" width="24.8" height="24.8" fill="rgb(87,87,87)" fill-opacity="0.5"/>
<circle cx="1188" cy="239.8" r="14.4" fill="rgb(255,58,58)" fill-opacity="0.5"/>
<path d="M1171.6 342L1204.4 342L1188 314.8Z" fill="rgb(0,114,232)" fill-opacity="0.5"/>
<path d="M1171.6 416.4L1204.4 416.4L1188 444Z" fill="rgb(0,168,98)" fill-opacity="0.5"/>
<text class="lg" x="1290" y="172.2">PP</text>
<text class="lg" x="1290" y="264.3">PP/PBE-1</text>
<text class="lg" x="1290" y="356.9">PP/PBE-2</text>
<text class="lg" x="1290" y="449.6">PP/PBE-3</text>
</svg></body></html>
